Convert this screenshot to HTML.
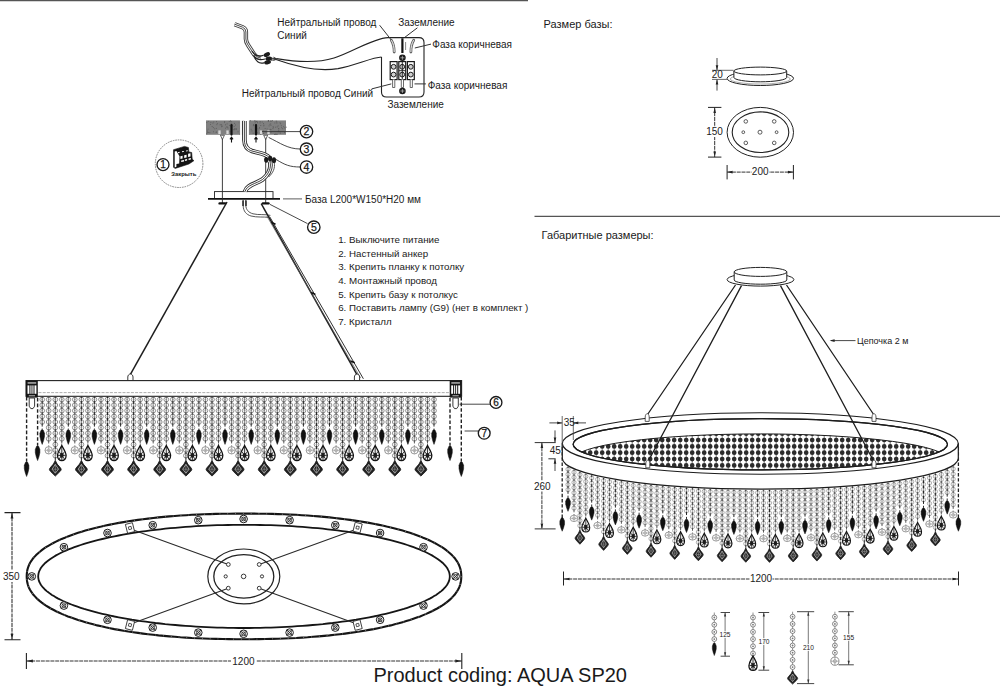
<!DOCTYPE html>
<html lang="ru"><head><meta charset="utf-8"><title>AQUA SP20</title>
<style>
html,body{margin:0;padding:0;background:#fff;}
body{width:1000px;height:690px;overflow:hidden;position:relative;font-family:"Liberation Sans",sans-serif;}
svg{position:absolute;left:0;top:0;display:block}
text{font-family:"Liberation Sans",sans-serif;fill:#1a1a1a}
.t10{font-size:10px}.t11{font-size:11px}.t98{font-size:9.75px}.t9{font-size:9px}
.d{font-size:10px;fill:#222}
.ln{stroke:#222;fill:none}
</style></head><body>
<svg width="1000" height="690" viewBox="0 0 1000 690">
<rect width="1000" height="690" fill="#fff"/>

<defs>
<g id="bd"><circle r="2.35" fill="#fff" stroke="#7a7a7a" stroke-width="0.85"/><circle r="0.9" fill="#8a8a8a"/></g>
<g id="bp"><circle r="2.1" fill="#fff" stroke="#999" stroke-width="0.8"/><circle r="0.8" fill="#aaa"/></g>
<path id="dd" d="M0,0 L-1.1,0.8 L-2.3,3.8 L-2.3,7.2 L-1.3,11.4 L0,15 L1.3,11.4 L2.3,7.2 L2.3,3.8 L1.1,0.8Z" fill="#111" stroke="#111" stroke-width="0.5" stroke-linejoin="round"/>
<g id="bl"><circle r="3.7" fill="#fff" stroke="#8c8c8c" stroke-width="0.9"/><path d="M-3.7,0H3.7M0,-3.7V3.7" stroke="#9a9a9a" stroke-width="0.7"/><circle r="1.5" fill="none" stroke="#909090" stroke-width="0.6"/></g>
<g id="al"><path d="M0,0 C-1,2.6 -4.3,6.2 -4.3,10.2 C-4.3,13.2 -2.4,15.2 0,15.2 C2.4,15.2 4.3,13.2 4.3,10.2 C4.3,6.2 1,2.6 0,0Z" fill="#eee" stroke="#111" stroke-width="1.3"/><path d="M0,1.5V15M-3.8,10H3.8M-2.8,6.2L2.8,13.8M2.8,6.2L-2.8,13.8" stroke="#1c1c1c" stroke-width="0.85" fill="none"/><ellipse cy="9.8" rx="1.9" ry="2.5" fill="#1c1c1c"/></g>
<g id="dm"><path d="M0,0 L-1.9,3.7 L-4.5,6.7 Q-5.9,8.2 -5.9,9 Q-5.9,9.8 -4.6,11.2 L0,15.7 L4.6,11.2 Q5.9,9.8 5.9,9 Q5.9,8.2 4.5,6.7 L1.9,3.7Z" fill="#222" stroke="#111" stroke-width="0.8" stroke-linejoin="round"/><path d="M0,4 L-3.2,8.8 L0,12.8 L3.2,8.8Z" fill="none" stroke="#cfcfcf" stroke-width="0.7"/><path d="M0,4V12.8M-3.2,8.8H3.2" stroke="#b0b0b0" stroke-width="0.5"/></g>
<g id="sk"><circle r="3.8" fill="#fff" stroke="#1c1c1c" stroke-width="1"/><path d="M-2.7,-2.7L2.7,2.7M-2.7,2.7L2.7,-2.7" stroke="#2a2a2a" stroke-width="0.9"/><circle r="1.9" fill="none" stroke="#2a2a2a" stroke-width="0.9"/></g>
<g id="hk"><path d="M-2.6,6 V2.4 C-2.6,0.8 -1.4,-0.6 0,-0.6 C1.4,-0.6 2.6,0.8 2.6,2.4 V6" fill="#fff" stroke="#222" stroke-width="0.9"/></g>
</defs>
<path d="M0,0.5H528" stroke="#555" stroke-width="1.3"/>
<path d="M534.5,216.4H1000" stroke="#555" stroke-width="1.3"/>
<text x="277.3" y="26.3" class="t10">Нейтральный провод</text>
<text x="277.3" y="38.7" class="t10">Синий</text>
<text x="398.2" y="26.3" class="t10">Заземление</text>
<text x="432.3" y="48" class="t10">Фаза коричневая</text>
<text x="427.7" y="89" class="t10">Фаза коричневая</text>
<text x="241.7" y="96.8" class="t10">Нейтральный провод Синий</text>
<text x="387.4" y="107.7" class="t10">Заземление</text>
<text x="543.6" y="28" class="t11">Размер базы:</text>
<text x="541.6" y="239" class="t11">Габаритные размеры:</text>
<text x="305" y="203" class="t10">База L200*W150*H20 мм</text>
<text x="338.2" y="243.2" class="t98">1. Выключите питание</text>
<text x="338.2" y="256.8" class="t98">2. Настенный анкер</text>
<text x="338.2" y="270.4" class="t98">3. Крепить планку к потолку</text>
<text x="338.2" y="284" class="t98">4. Монтажный провод</text>
<text x="338.2" y="297.6" class="t98">5. Крепить базу к потолкус</text>
<text x="338.2" y="311.2" class="t98">6. Поставить лампу (G9) (нет в комплект )</text>
<text x="338.2" y="324.8" class="t98">7. Кристалл</text>
<text x="857" y="343.6" class="t9">Цепочка 2 м</text>
<text x="373.5" y="682" font-size="20" fill="#111">Product coding: AQUA SP20</text>
<path d="M381.5,57 V92 Q381.5,97 386.5,97 H419 Q424,97 424,92 V42.6 Q424,37.6 419,37.6 H388 C372,38.5 354,51.5 334,58 C316,63.6 296,62 276.5,58.6" class="ln" stroke-width="1.1" stroke="#333"/>
<path d="M381.5,57 C372,57.5 356,65 338,68.6 C318,72 298,67.5 276,59.6" class="ln" stroke-width="1.1" stroke="#333"/>
<rect x="390.2" y="61.6" width="6.9" height="18" fill="#fff" stroke="#1a1a1a" stroke-width="1.2"/>
<circle cx="393.6" cy="66.8" r="2.4" fill="#cfcfcf" stroke="#1a1a1a" stroke-width="1"/>
<circle cx="393.6" cy="74.6" r="2.4" fill="#cfcfcf" stroke="#1a1a1a" stroke-width="1"/>
<rect x="398.8" y="61.6" width="6.9" height="18" fill="#fff" stroke="#1a1a1a" stroke-width="1.2"/>
<circle cx="402.2" cy="66.8" r="2.4" fill="#cfcfcf" stroke="#1a1a1a" stroke-width="1"/>
<circle cx="402.2" cy="74.6" r="2.4" fill="#cfcfcf" stroke="#1a1a1a" stroke-width="1"/>
<rect x="407.4" y="61.6" width="6.9" height="18" fill="#fff" stroke="#1a1a1a" stroke-width="1.2"/>
<circle cx="410.8" cy="66.8" r="2.4" fill="#cfcfcf" stroke="#1a1a1a" stroke-width="1"/>
<circle cx="410.8" cy="74.6" r="2.4" fill="#cfcfcf" stroke="#1a1a1a" stroke-width="1"/>
<path d="M399,70.7H405.6M402.3,62V79.4" stroke="#1a1a1a" stroke-width="0.9"/>
<circle cx="402.4" cy="57.8" r="3.3" fill="#1c1c1c"/><path d="M400.4,57.8H404.4M402.4,55.8V59.8" stroke="#ddd" stroke-width="0.6"/>
<circle cx="402.4" cy="91" r="3.3" fill="#1c1c1c"/><path d="M400.4,91H404.4M402.4,89V93" stroke="#ddd" stroke-width="0.6"/>
<path d="M402.4,38.3V53" stroke="#111" stroke-width="2.2"/>
<path d="M405.6,42V50" stroke="#555" stroke-width="0.7"/>
<path d="M391.3,40.2 C393.4,43.5 394.2,47 394.2,52" stroke="#666" stroke-width="2.8" fill="none" stroke-linecap="round"/><path d="M391.3,40.2 C393.4,43.5 394.2,47 394.2,52" stroke="#fff" stroke-width="0.9" fill="none"/>
<path d="M413.7,40.2 C411.6,43.5 410.9,47 410.9,52" stroke="#666" stroke-width="2.8" fill="none" stroke-linecap="round"/><path d="M413.7,40.2 C411.6,43.5 410.9,47 410.9,52" stroke="#fff" stroke-width="0.9" fill="none"/>
<path d="M392.59999999999997,79.5V87.5H394.8V79.5" fill="#fff" stroke="#444" stroke-width="0.8"/>
<path d="M401.29999999999995,79.5V87.5H403.5V79.5" fill="#fff" stroke="#444" stroke-width="0.8"/>
<path d="M410.2,79.5V87.5H412.40000000000003V79.5" fill="#fff" stroke="#444" stroke-width="0.8"/>
<path d="M379.6,25.2L391,39.6M417.4,27.8L405,37.2M431,44.1L414.8,48M425.9,83.9H414.5M371.7,88.9L391.3,83.9" stroke="#333" stroke-width="1" fill="none"/>
<path d="M234.6,24.2 L242.6,27.2 Q245.9,28.6 245.9,32 L245.9,39 Q246,42 248,45 L254,54.2 Q256,57.4 260.5,58" stroke="#3a3a3a" stroke-width="4.4" fill="none" stroke-linejoin="round"/>
<path d="M234.6,24.2 L242.6,27.2 Q245.9,28.6 245.9,32 L245.9,39 Q246,42 248,45 L254,54.2 Q256,57.4 260.5,58" stroke="#fff" stroke-width="2.6" fill="none" stroke-linejoin="round"/>
<path d="M234.6,24.2 L242.6,27.2 Q245.9,28.6 245.9,32 L245.9,39 Q246,42 248,45 L254,54.2 Q256,57.4 260.5,58" stroke="#3a3a3a" stroke-width="0.9" fill="none" stroke-linejoin="round"/>
<path d="M252,51 C255,56 259,57 263.5,55.2M253.6,55 C256,59.5 260,60.5 265,59M254.6,57.6 C257,62.6 261,64 264.6,62.6" stroke="#222" stroke-width="1.2" fill="none"/>
<ellipse cx="266.8" cy="54.6" rx="3.4" ry="2.1" fill="#1c1c1c" transform="rotate(-25 266.8 54.6)"/>
<ellipse cx="268.8" cy="58.7" rx="3.4" ry="2.1" fill="#1c1c1c" transform="rotate(-8 268.8 58.7)"/>
<ellipse cx="267.6" cy="62.3" rx="3.4" ry="2.1" fill="#1c1c1c" transform="rotate(-12 267.6 62.3)"/>
<path d="M271,58.2L276.5,58.6M271,60.2L276,59.6M273.5,57.2l3,1.6l-3,1.6" stroke="#333" stroke-width="1" fill="none"/>
<rect x="206" y="120.4" width="80" height="14.4" fill="#808080"/>
<path d="M225,128.2h0.9M235.6,129.1h0.9M256.1,121.5h0.9M207.1,132.3h0.9M226.7,123.9h0.9M285.7,127.2h0.9M272.9,127.3h0.9M257.1,122.7h0.9M256.8,132.8h0.9M247.9,131h0.9M259.7,121.5h0.9M266.7,128.9h0.9M230.1,121h0.9M275.2,127.2h0.9M263.5,132.9h0.9M263.1,133.5h0.9M237.6,131.8h0.9M241.6,133.7h0.9M276.3,122h0.9M216.9,123.6h0.9M283.2,126.7h0.9M256.1,124.8h0.9M246.6,126h0.9M234.1,128.8h0.9M252.7,133.3h0.9M260.6,133.6h0.9M274.5,134.5h0.9M259.7,122.9h0.9M274.9,134.1h0.9M278.4,128.6h0.9M263.1,123.6h0.9M272.5,128.6h0.9M228.8,121.5h0.9M274.3,134.5h0.9M213.1,131.8h0.9M238.8,122.7h0.9M229.5,131.4h0.9M275.8,121.2h0.9M255.2,121.2h0.9M263.5,125.2h0.9M276.5,134.3h0.9M246.4,134.6h0.9M230.8,121.7h0.9M254,121h0.9M221.8,126.3h0.9M254.8,122.8h0.9M209.4,132.7h0.9M231.1,134h0.9M277.7,125.9h0.9M242.8,127.9h0.9M257.5,128.9h0.9M250.7,129.3h0.9M281.2,127.7h0.9M240.5,130.7h0.9M225,124.8h0.9M284.2,127.9h0.9M249.9,120.8h0.9M239.2,128.7h0.9M207.6,129.2h0.9M256.6,121.4h0.9M256.2,127.1h0.9M260.3,125.5h0.9M262.6,130.9h0.9M207.8,121.4h0.9M260.1,134.1h0.9M226.1,127h0.9M253.4,125.1h0.9M235.1,125h0.9M235.5,128.9h0.9M230,125.9h0.9M267.8,121h0.9M251.5,130.9h0.9M230.8,123.7h0.9M270.3,123.9h0.9M221,126.7h0.9M261.8,122h0.9M231.8,125.3h0.9M272.7,126.7h0.9M274.4,123h0.9M232.9,129.7h0.9M276.8,126.9h0.9M224,122.3h0.9M248.4,123.3h0.9M270.5,132.3h0.9M220.7,124.5h0.9M270.6,129.6h0.9M270.5,125.4h0.9M216.4,124.7h0.9M269.5,124.4h0.9M233.7,126.4h0.9M239.6,126.3h0.9M279.6,122.8h0.9M206.4,133.8h0.9M276.4,134.4h0.9M240.7,133.9h0.9M280.2,123.7h0.9M265.6,132.3h0.9M259,127.9h0.9M229.1,125.4h0.9M224.2,121.6h0.9M253.1,124.6h0.9M270.8,121.2h0.9M278.3,130.3h0.9M279.9,133.2h0.9M278,128.7h0.9M207.1,131h0.9M219.7,124.8h0.9M259,127.9h0.9M239.1,133.7h0.9M255,125.4h0.9M226.2,132.7h0.9M244.2,131.6h0.9M234.1,123.4h0.9M248.8,132h0.9M219.7,131.7h0.9M279.7,131.9h0.9M271.9,120.7h0.9M256.3,132.7h0.9M210,124.4h0.9M227.5,128h0.9M239.8,127.2h0.9M268.1,120.6h0.9M210.4,122.4h0.9M216,121.6h0.9M284,132.6h0.9M212.9,127.6h0.9M231.3,125h0.9M234.1,129.7h0.9M252.9,125.7h0.9M221.3,125.2h0.9M215.9,128.4h0.9M263.3,125.9h0.9M212.4,123.1h0.9M235.9,129.1h0.9M268.6,125.9h0.9M270.1,129.3h0.9M240.5,125.8h0.9M245.7,130.4h0.9M239.6,130.3h0.9M242.9,124h0.9M248.9,130.3h0.9M211.7,126.5h0.9M240.1,132.9h0.9M280.9,125.8h0.9M277.8,131.7h0.9M227,127.1h0.9M215.9,132h0.9M259,133h0.9M269.4,129.9h0.9M264.7,128.5h0.9M214.3,128.8h0.9M206.4,122.6h0.9M267.9,121.2h0.9M213.3,122h0.9M276.4,123.1h0.9M207.9,132.4h0.9M215.7,132.4h0.9M259.9,132.3h0.9M282.2,128.7h0.9M269.9,121.1h0.9" stroke="#5e5e5e" stroke-width="1"/>
<rect x="239.6" y="120" width="9.8" height="15.2" fill="#fff"/><rect x="241.9" y="120.4" width="2.5" height="14.4" fill="#a8a8a8"/>
<path d="M239.6,120.4V135M249.4,120.4V135" stroke="#666" stroke-width="0.7"/>
<path d="M231.5,125V134.6" stroke="#111" stroke-width="2.2" stroke-linecap="round"/>
<path d="M231.5,137.2V142.6M230.0,139.4L231.5,137.2L233.0,139.4" stroke="#111" stroke-width="1.1" fill="none"/>
<path d="M256,125V134.6" stroke="#111" stroke-width="2.2" stroke-linecap="round"/>
<path d="M256,137.2V142.6M254.5,139.4L256,137.2L257.5,139.4" stroke="#111" stroke-width="1.1" fill="none"/>
<rect x="218.3" y="130.4" width="2.4" height="3.6" fill="#d6d6d6"/>
<rect x="226.3" y="130.4" width="2.4" height="3.6" fill="#d6d6d6"/>
<rect x="259.8" y="130.4" width="2.4" height="3.6" fill="#d6d6d6"/>
<rect x="267.3" y="130.4" width="2.4" height="3.6" fill="#d6d6d6"/>
<rect x="214.5" y="191.6" width="58.5" height="7" fill="#fff" stroke="#222" stroke-width="0.9"/>
<path d="M208,198.9H280" stroke="#111" stroke-width="1.8"/>
<path d="M283,198.9H302" stroke="#333" stroke-width="0.8"/>
<path d="M222.4,135V203" stroke="#2a2a2a" stroke-width="0.9"/>
<path d="M220.4,135.2L222.4,139.5L224.4,135.2Z" fill="#fff" stroke="#222" stroke-width="0.7"/>
<path d="M219.6,203.4H225.20000000000002" stroke="#111" stroke-width="2.4" stroke-linecap="round"/>
<path d="M265.7,135V203" stroke="#2a2a2a" stroke-width="0.9"/>
<path d="M263.7,135.2L265.7,139.5L267.7,135.2Z" fill="#fff" stroke="#222" stroke-width="0.7"/>
<path d="M262.9,203.4H268.5" stroke="#111" stroke-width="2.4" stroke-linecap="round"/>
<path d="M244.4,121 V140 C244.6,146.5 247,149.5 252,151 L262,153.6 C266.5,155 269,156.6 270,159" stroke="#2e2e2e" stroke-width="4.6" fill="none"/>
<path d="M244.4,121 V140 C244.6,146.5 247,149.5 252,151 L262,153.6 C266.5,155 269,156.6 270,159" stroke="#fff" stroke-width="2.8" fill="none"/>
<path d="M244.4,121 V140 C244.6,146.5 247,149.5 252,151 L262,153.6 C266.5,155 269,156.6 270,159" stroke="#2e2e2e" stroke-width="0.9" fill="none"/>
<path d="M270,161.5 C271.5,167.5 269,174 262.5,179.5 C256,184 247,184.5 245,191.6" stroke="#2e2e2e" stroke-width="4.6" fill="none"/>
<path d="M270,161.5 C271.5,167.5 269,174 262.5,179.5 C256,184 247,184.5 245,191.6" stroke="#fff" stroke-width="2.8" fill="none"/>
<path d="M270,161.5 C271.5,167.5 269,174 262.5,179.5 C256,184 247,184.5 245,191.6" stroke="#2e2e2e" stroke-width="0.9" fill="none"/>
<rect x="239.6" y="119.4" width="9.8" height="1" fill="#fff"/>
<ellipse cx="266.2" cy="159.8" rx="2.1" ry="2.9" fill="#1a1a1a"/>
<ellipse cx="270.2" cy="158.6" rx="2.1" ry="2.9" fill="#1a1a1a"/>
<ellipse cx="274" cy="160.2" rx="2.1" ry="2.9" fill="#1a1a1a"/>
<path d="M274.2,162.5 C275.4,168 273,173 268.6,177" stroke="#444" stroke-width="0.9" fill="none"/>
<path d="M243.2,199.8 V206 C243.4,211 246,214.5 251,216 C257,217.6 264,216.6 268.5,217.4 M245.8,199.8 V205.5 C246,209.5 248.5,212.6 253,213.8 C258.5,215.2 265,214 270.4,215.4" stroke="#444" stroke-width="0.9" fill="none"/>
<path d="M243,200.5V206M246,200.5V206" stroke="#222" stroke-width="1.4"/>
<path d="M227,202L130.4,374.4" stroke="#1e1e1e" stroke-width="1.5"/>
<path d="M261.2,203.7L357,374.6" stroke="#1e1e1e" stroke-width="1.5"/>
<path d="M269.6,216.6L363.4,378.8" stroke="#333" stroke-width="1"/>
<path d="M266.8,216L360.6,378" stroke="#555" stroke-width="0.7"/>
<path d="M311.2,292.6l4.2,1.8M350.5,361l4.2,1.8M271.5,222.4l4,1.8" stroke="#111" stroke-width="1.6"/>
<path d="M300,131.6H262M300.2,149 C288,149 280,143 268.6,137.4M300.2,167 C290,167 285,165 276,159.4M307.5,223.6L270,204.4" stroke="#333" stroke-width="0.9" fill="none"/>
<circle cx="306.5" cy="131.6" r="6.2" fill="#fff" stroke="#1a1a1a" stroke-width="1.35"/><text x="306.5" y="135.4" text-anchor="middle" font-size="10.5" stroke="#1a1a1a" stroke-width="0.25">2</text>
<circle cx="306.5" cy="149.2" r="6.2" fill="#fff" stroke="#1a1a1a" stroke-width="1.35"/><text x="306.5" y="153" text-anchor="middle" font-size="10.5" stroke="#1a1a1a" stroke-width="0.25">3</text>
<circle cx="306.5" cy="167" r="6.2" fill="#fff" stroke="#1a1a1a" stroke-width="1.35"/><text x="306.5" y="170.8" text-anchor="middle" font-size="10.5" stroke="#1a1a1a" stroke-width="0.25">4</text>
<circle cx="313.8" cy="227.2" r="6.2" fill="#fff" stroke="#1a1a1a" stroke-width="1.35"/><text x="313.8" y="231" text-anchor="middle" font-size="10.5" stroke="#1a1a1a" stroke-width="0.25">5</text>
<circle cx="179.1" cy="163.7" r="23.8" fill="none" stroke="#777" stroke-width="0.9" stroke-dasharray="1.6 0.9"/>
<circle cx="163" cy="164.6" r="6" fill="#fff" stroke="#1a1a1a" stroke-width="1.35"/><text x="163" y="168.2" text-anchor="middle" font-size="10" stroke="#1a1a1a" stroke-width="0.25">1</text>
<path d="M173.5,149.7 L184.5,146.4 L188.4,147.5 L188.9,151.9 L191.7,152.5 L192.2,159.1 L193.9,160.7 L188.9,164 L175.2,168.4 L173.5,167.3Z" fill="#141414" stroke="#141414" stroke-width="0.6" stroke-linejoin="round"/>
<path d="M174.7,151.5 L176.4,151.1 L179.5,156.3 L179.2,163.4 L176.4,164 L176.4,166.8 L174.7,167.5Z" fill="#fff"/>
<path d="M180.4,156.2l2.2,-0.5v2.7l-2.2,0.5zM184.2,155.2l2.4,-0.5v2.8l-2.4,0.5zM188.1,153.8l2.4,-0.6v3.2l-2.4,0.6zM181.2,160.6l2.8,-0.6v1.5l-2.8,0.6zM184.9,159.6l2.2,-0.5v1.4l-2.2,0.5zM188.6,158.5l2.3,-0.5v1.4l-2.3,0.5zM177.9,152.2l1.7,-0.4v1.1l-1.7,0.4zM182,151.3l2,-0.4v0.9l-2,0.4zM186.2,150.4l1.4,-0.3v1.1l-1.4,0.3z" fill="#fff"/>
<text x="171.3" y="176.3" font-size="5.9" font-weight="bold" fill="#606060">Закрыть</text>
<use href="#hk" x="130.4" y="374.6"/><use href="#hk" x="357" y="374.6"/>
<rect x="26" y="380.6" width="435.6" height="15.7" fill="#fff" stroke="#222" stroke-width="1.1"/>
<path d="M38.5,392.6H449.5" stroke="#999" stroke-width="0.8" stroke-dasharray="3 1.2"/>
<rect x="26.0" y="380.4" width="11.8" height="17.2" fill="#161616"/>
<rect x="27.6" y="382.4" width="8.6" height="1.1" fill="#e8e8e8"/>
<rect x="27.5" y="385.4" width="1.9" height="8.4" fill="#fff"/>
<rect x="30.4" y="385.4" width="1.1" height="8.4" fill="#fff"/>
<rect x="32.4" y="385.4" width="1.1" height="8.4" fill="#fff"/>
<rect x="34.5" y="385.4" width="1.9" height="8.4" fill="#fff"/>
<rect x="28.8" y="395" width="6.2" height="1.4" fill="#8a8a8a"/>
<path d="M29.2,398V406.2L30.8,408.6H33.0L34.6,406.2V398Z" fill="#fff" stroke="#222" stroke-width="0.9"/>
<rect x="449.7" y="380.4" width="11.8" height="17.2" fill="#161616"/>
<rect x="451.3" y="382.4" width="8.6" height="1.1" fill="#e8e8e8"/>
<rect x="451.2" y="385.4" width="1.9" height="8.4" fill="#fff"/>
<rect x="454.1" y="385.4" width="1.1" height="8.4" fill="#fff"/>
<rect x="456.1" y="385.4" width="1.1" height="8.4" fill="#fff"/>
<rect x="458.2" y="385.4" width="1.9" height="8.4" fill="#fff"/>
<rect x="452.5" y="395" width="6.2" height="1.4" fill="#8a8a8a"/>
<path d="M452.9,398V406.2L454.5,408.6H456.7L458.3,406.2V398Z" fill="#fff" stroke="#222" stroke-width="0.9"/>
<use href="#bd" x="42.2" y="399.5"/>
<use href="#bd" x="42.2" y="405.1"/>
<use href="#bd" x="42.2" y="410.7"/>
<use href="#bd" x="42.2" y="416.4"/>
<use href="#bd" x="42.2" y="422"/>
<path d="M42.2,396.4V429.4" stroke="#1e1e1e" stroke-width="0.95" stroke-dasharray="3.60 2.02" stroke-dashoffset="1.52"/>
<use href="#bd" x="48.7" y="399.5"/>
<use href="#bd" x="48.7" y="405.1"/>
<use href="#bd" x="48.7" y="410.7"/>
<use href="#bd" x="48.7" y="416.4"/>
<use href="#bd" x="48.7" y="422"/>
<use href="#bd" x="48.7" y="427.6"/>
<use href="#bd" x="48.7" y="433.2"/>
<use href="#bd" x="48.7" y="438.8"/>
<path d="M48.7,396.4V446.9" stroke="#333" stroke-width="0.8" stroke-dasharray="3.60 2.02" stroke-dashoffset="1.52"/>
<use href="#bd" x="55.3" y="399.5"/>
<use href="#bd" x="55.3" y="405.1"/>
<use href="#bd" x="55.3" y="410.7"/>
<use href="#bd" x="55.3" y="416.4"/>
<use href="#bd" x="55.3" y="422"/>
<use href="#bd" x="55.3" y="427.6"/>
<use href="#bd" x="55.3" y="433.2"/>
<use href="#bd" x="55.3" y="438.8"/>
<use href="#bd" x="55.3" y="444.5"/>
<use href="#bd" x="55.3" y="450.1"/>
<use href="#bd" x="55.3" y="455.7"/>
<path d="M55.3,396.4V460.4" stroke="#1e1e1e" stroke-width="0.95" stroke-dasharray="3.60 2.02" stroke-dashoffset="1.52"/>
<use href="#bd" x="61.8" y="399.5"/>
<use href="#bd" x="61.8" y="405.1"/>
<use href="#bd" x="61.8" y="410.7"/>
<use href="#bd" x="61.8" y="416.4"/>
<use href="#bd" x="61.8" y="422"/>
<use href="#bd" x="61.8" y="427.6"/>
<use href="#bd" x="61.8" y="433.2"/>
<use href="#bd" x="61.8" y="438.8"/>
<path d="M61.8,396.4V445.4" stroke="#333" stroke-width="0.8" stroke-dasharray="3.60 2.02" stroke-dashoffset="1.52"/>
<use href="#bd" x="68.3" y="399.5"/>
<use href="#bd" x="68.3" y="405.1"/>
<use href="#bd" x="68.3" y="410.7"/>
<use href="#bd" x="68.3" y="416.4"/>
<use href="#bd" x="68.3" y="422"/>
<path d="M68.3,396.4V429.4" stroke="#1e1e1e" stroke-width="0.95" stroke-dasharray="3.60 2.02" stroke-dashoffset="1.52"/>
<use href="#bd" x="74.8" y="399.5"/>
<use href="#bd" x="74.8" y="405.1"/>
<use href="#bd" x="74.8" y="410.7"/>
<use href="#bd" x="74.8" y="416.4"/>
<use href="#bd" x="74.8" y="422"/>
<use href="#bd" x="74.8" y="427.6"/>
<use href="#bd" x="74.8" y="433.2"/>
<use href="#bd" x="74.8" y="438.8"/>
<path d="M74.8,396.4V446.9" stroke="#333" stroke-width="0.8" stroke-dasharray="3.60 2.02" stroke-dashoffset="1.52"/>
<use href="#bd" x="81.4" y="399.5"/>
<use href="#bd" x="81.4" y="405.1"/>
<use href="#bd" x="81.4" y="410.7"/>
<use href="#bd" x="81.4" y="416.4"/>
<use href="#bd" x="81.4" y="422"/>
<use href="#bd" x="81.4" y="427.6"/>
<use href="#bd" x="81.4" y="433.2"/>
<use href="#bd" x="81.4" y="438.8"/>
<use href="#bd" x="81.4" y="444.5"/>
<use href="#bd" x="81.4" y="450.1"/>
<use href="#bd" x="81.4" y="455.7"/>
<path d="M81.4,396.4V460.4" stroke="#1e1e1e" stroke-width="0.95" stroke-dasharray="3.60 2.02" stroke-dashoffset="1.52"/>
<use href="#bd" x="87.9" y="399.5"/>
<use href="#bd" x="87.9" y="405.1"/>
<use href="#bd" x="87.9" y="410.7"/>
<use href="#bd" x="87.9" y="416.4"/>
<use href="#bd" x="87.9" y="422"/>
<use href="#bd" x="87.9" y="427.6"/>
<use href="#bd" x="87.9" y="433.2"/>
<use href="#bd" x="87.9" y="438.8"/>
<path d="M87.9,396.4V445.4" stroke="#333" stroke-width="0.8" stroke-dasharray="3.60 2.02" stroke-dashoffset="1.52"/>
<use href="#bd" x="94.4" y="399.5"/>
<use href="#bd" x="94.4" y="405.1"/>
<use href="#bd" x="94.4" y="410.7"/>
<use href="#bd" x="94.4" y="416.4"/>
<use href="#bd" x="94.4" y="422"/>
<path d="M94.4,396.4V429.4" stroke="#1e1e1e" stroke-width="0.95" stroke-dasharray="3.60 2.02" stroke-dashoffset="1.52"/>
<use href="#bd" x="101" y="399.5"/>
<use href="#bd" x="101" y="405.1"/>
<use href="#bd" x="101" y="410.7"/>
<use href="#bd" x="101" y="416.4"/>
<use href="#bd" x="101" y="422"/>
<use href="#bd" x="101" y="427.6"/>
<use href="#bd" x="101" y="433.2"/>
<use href="#bd" x="101" y="438.8"/>
<path d="M101,396.4V446.9" stroke="#333" stroke-width="0.8" stroke-dasharray="3.60 2.02" stroke-dashoffset="1.52"/>
<use href="#bd" x="107.5" y="399.5"/>
<use href="#bd" x="107.5" y="405.1"/>
<use href="#bd" x="107.5" y="410.7"/>
<use href="#bd" x="107.5" y="416.4"/>
<use href="#bd" x="107.5" y="422"/>
<use href="#bd" x="107.5" y="427.6"/>
<use href="#bd" x="107.5" y="433.2"/>
<use href="#bd" x="107.5" y="438.8"/>
<use href="#bd" x="107.5" y="444.5"/>
<use href="#bd" x="107.5" y="450.1"/>
<use href="#bd" x="107.5" y="455.7"/>
<path d="M107.5,396.4V460.4" stroke="#1e1e1e" stroke-width="0.95" stroke-dasharray="3.60 2.02" stroke-dashoffset="1.52"/>
<use href="#bd" x="114" y="399.5"/>
<use href="#bd" x="114" y="405.1"/>
<use href="#bd" x="114" y="410.7"/>
<use href="#bd" x="114" y="416.4"/>
<use href="#bd" x="114" y="422"/>
<use href="#bd" x="114" y="427.6"/>
<use href="#bd" x="114" y="433.2"/>
<use href="#bd" x="114" y="438.8"/>
<path d="M114,396.4V445.4" stroke="#333" stroke-width="0.8" stroke-dasharray="3.60 2.02" stroke-dashoffset="1.52"/>
<use href="#bd" x="120.6" y="399.5"/>
<use href="#bd" x="120.6" y="405.1"/>
<use href="#bd" x="120.6" y="410.7"/>
<use href="#bd" x="120.6" y="416.4"/>
<use href="#bd" x="120.6" y="422"/>
<path d="M120.6,396.4V429.4" stroke="#1e1e1e" stroke-width="0.95" stroke-dasharray="3.60 2.02" stroke-dashoffset="1.52"/>
<use href="#bd" x="127.1" y="399.5"/>
<use href="#bd" x="127.1" y="405.1"/>
<use href="#bd" x="127.1" y="410.7"/>
<use href="#bd" x="127.1" y="416.4"/>
<use href="#bd" x="127.1" y="422"/>
<use href="#bd" x="127.1" y="427.6"/>
<use href="#bd" x="127.1" y="433.2"/>
<use href="#bd" x="127.1" y="438.8"/>
<path d="M127.1,396.4V446.9" stroke="#333" stroke-width="0.8" stroke-dasharray="3.60 2.02" stroke-dashoffset="1.52"/>
<use href="#bd" x="133.6" y="399.5"/>
<use href="#bd" x="133.6" y="405.1"/>
<use href="#bd" x="133.6" y="410.7"/>
<use href="#bd" x="133.6" y="416.4"/>
<use href="#bd" x="133.6" y="422"/>
<use href="#bd" x="133.6" y="427.6"/>
<use href="#bd" x="133.6" y="433.2"/>
<use href="#bd" x="133.6" y="438.8"/>
<use href="#bd" x="133.6" y="444.5"/>
<use href="#bd" x="133.6" y="450.1"/>
<use href="#bd" x="133.6" y="455.7"/>
<path d="M133.6,396.4V460.4" stroke="#1e1e1e" stroke-width="0.95" stroke-dasharray="3.60 2.02" stroke-dashoffset="1.52"/>
<use href="#bd" x="140.2" y="399.5"/>
<use href="#bd" x="140.2" y="405.1"/>
<use href="#bd" x="140.2" y="410.7"/>
<use href="#bd" x="140.2" y="416.4"/>
<use href="#bd" x="140.2" y="422"/>
<use href="#bd" x="140.2" y="427.6"/>
<use href="#bd" x="140.2" y="433.2"/>
<use href="#bd" x="140.2" y="438.8"/>
<path d="M140.2,396.4V445.4" stroke="#333" stroke-width="0.8" stroke-dasharray="3.60 2.02" stroke-dashoffset="1.52"/>
<use href="#bd" x="146.7" y="399.5"/>
<use href="#bd" x="146.7" y="405.1"/>
<use href="#bd" x="146.7" y="410.7"/>
<use href="#bd" x="146.7" y="416.4"/>
<use href="#bd" x="146.7" y="422"/>
<path d="M146.7,396.4V429.4" stroke="#1e1e1e" stroke-width="0.95" stroke-dasharray="3.60 2.02" stroke-dashoffset="1.52"/>
<use href="#bd" x="153.2" y="399.5"/>
<use href="#bd" x="153.2" y="405.1"/>
<use href="#bd" x="153.2" y="410.7"/>
<use href="#bd" x="153.2" y="416.4"/>
<use href="#bd" x="153.2" y="422"/>
<use href="#bd" x="153.2" y="427.6"/>
<use href="#bd" x="153.2" y="433.2"/>
<use href="#bd" x="153.2" y="438.8"/>
<path d="M153.2,396.4V446.9" stroke="#333" stroke-width="0.8" stroke-dasharray="3.60 2.02" stroke-dashoffset="1.52"/>
<use href="#bd" x="159.7" y="399.5"/>
<use href="#bd" x="159.7" y="405.1"/>
<use href="#bd" x="159.7" y="410.7"/>
<use href="#bd" x="159.7" y="416.4"/>
<use href="#bd" x="159.7" y="422"/>
<use href="#bd" x="159.7" y="427.6"/>
<use href="#bd" x="159.7" y="433.2"/>
<use href="#bd" x="159.7" y="438.8"/>
<use href="#bd" x="159.7" y="444.5"/>
<use href="#bd" x="159.7" y="450.1"/>
<use href="#bd" x="159.7" y="455.7"/>
<path d="M159.7,396.4V460.4" stroke="#1e1e1e" stroke-width="0.95" stroke-dasharray="3.60 2.02" stroke-dashoffset="1.52"/>
<use href="#bd" x="166.3" y="399.5"/>
<use href="#bd" x="166.3" y="405.1"/>
<use href="#bd" x="166.3" y="410.7"/>
<use href="#bd" x="166.3" y="416.4"/>
<use href="#bd" x="166.3" y="422"/>
<use href="#bd" x="166.3" y="427.6"/>
<use href="#bd" x="166.3" y="433.2"/>
<use href="#bd" x="166.3" y="438.8"/>
<path d="M166.3,396.4V445.4" stroke="#333" stroke-width="0.8" stroke-dasharray="3.60 2.02" stroke-dashoffset="1.52"/>
<use href="#bd" x="172.8" y="399.5"/>
<use href="#bd" x="172.8" y="405.1"/>
<use href="#bd" x="172.8" y="410.7"/>
<use href="#bd" x="172.8" y="416.4"/>
<use href="#bd" x="172.8" y="422"/>
<path d="M172.8,396.4V429.4" stroke="#1e1e1e" stroke-width="0.95" stroke-dasharray="3.60 2.02" stroke-dashoffset="1.52"/>
<use href="#bd" x="179.3" y="399.5"/>
<use href="#bd" x="179.3" y="405.1"/>
<use href="#bd" x="179.3" y="410.7"/>
<use href="#bd" x="179.3" y="416.4"/>
<use href="#bd" x="179.3" y="422"/>
<use href="#bd" x="179.3" y="427.6"/>
<use href="#bd" x="179.3" y="433.2"/>
<use href="#bd" x="179.3" y="438.8"/>
<path d="M179.3,396.4V446.9" stroke="#333" stroke-width="0.8" stroke-dasharray="3.60 2.02" stroke-dashoffset="1.52"/>
<use href="#bd" x="185.9" y="399.5"/>
<use href="#bd" x="185.9" y="405.1"/>
<use href="#bd" x="185.9" y="410.7"/>
<use href="#bd" x="185.9" y="416.4"/>
<use href="#bd" x="185.9" y="422"/>
<use href="#bd" x="185.9" y="427.6"/>
<use href="#bd" x="185.9" y="433.2"/>
<use href="#bd" x="185.9" y="438.8"/>
<use href="#bd" x="185.9" y="444.5"/>
<use href="#bd" x="185.9" y="450.1"/>
<use href="#bd" x="185.9" y="455.7"/>
<path d="M185.9,396.4V460.4" stroke="#1e1e1e" stroke-width="0.95" stroke-dasharray="3.60 2.02" stroke-dashoffset="1.52"/>
<use href="#bd" x="192.4" y="399.5"/>
<use href="#bd" x="192.4" y="405.1"/>
<use href="#bd" x="192.4" y="410.7"/>
<use href="#bd" x="192.4" y="416.4"/>
<use href="#bd" x="192.4" y="422"/>
<use href="#bd" x="192.4" y="427.6"/>
<use href="#bd" x="192.4" y="433.2"/>
<use href="#bd" x="192.4" y="438.8"/>
<path d="M192.4,396.4V445.4" stroke="#333" stroke-width="0.8" stroke-dasharray="3.60 2.02" stroke-dashoffset="1.52"/>
<use href="#bd" x="198.9" y="399.5"/>
<use href="#bd" x="198.9" y="405.1"/>
<use href="#bd" x="198.9" y="410.7"/>
<use href="#bd" x="198.9" y="416.4"/>
<use href="#bd" x="198.9" y="422"/>
<path d="M198.9,396.4V429.4" stroke="#1e1e1e" stroke-width="0.95" stroke-dasharray="3.60 2.02" stroke-dashoffset="1.52"/>
<use href="#bd" x="205.4" y="399.5"/>
<use href="#bd" x="205.4" y="405.1"/>
<use href="#bd" x="205.4" y="410.7"/>
<use href="#bd" x="205.4" y="416.4"/>
<use href="#bd" x="205.4" y="422"/>
<use href="#bd" x="205.4" y="427.6"/>
<use href="#bd" x="205.4" y="433.2"/>
<use href="#bd" x="205.4" y="438.8"/>
<path d="M205.4,396.4V446.9" stroke="#333" stroke-width="0.8" stroke-dasharray="3.60 2.02" stroke-dashoffset="1.52"/>
<use href="#bd" x="212" y="399.5"/>
<use href="#bd" x="212" y="405.1"/>
<use href="#bd" x="212" y="410.7"/>
<use href="#bd" x="212" y="416.4"/>
<use href="#bd" x="212" y="422"/>
<use href="#bd" x="212" y="427.6"/>
<use href="#bd" x="212" y="433.2"/>
<use href="#bd" x="212" y="438.8"/>
<use href="#bd" x="212" y="444.5"/>
<use href="#bd" x="212" y="450.1"/>
<use href="#bd" x="212" y="455.7"/>
<path d="M212,396.4V460.4" stroke="#1e1e1e" stroke-width="0.95" stroke-dasharray="3.60 2.02" stroke-dashoffset="1.52"/>
<use href="#bd" x="218.5" y="399.5"/>
<use href="#bd" x="218.5" y="405.1"/>
<use href="#bd" x="218.5" y="410.7"/>
<use href="#bd" x="218.5" y="416.4"/>
<use href="#bd" x="218.5" y="422"/>
<use href="#bd" x="218.5" y="427.6"/>
<use href="#bd" x="218.5" y="433.2"/>
<use href="#bd" x="218.5" y="438.8"/>
<path d="M218.5,396.4V445.4" stroke="#333" stroke-width="0.8" stroke-dasharray="3.60 2.02" stroke-dashoffset="1.52"/>
<use href="#bd" x="225" y="399.5"/>
<use href="#bd" x="225" y="405.1"/>
<use href="#bd" x="225" y="410.7"/>
<use href="#bd" x="225" y="416.4"/>
<use href="#bd" x="225" y="422"/>
<path d="M225,396.4V429.4" stroke="#1e1e1e" stroke-width="0.95" stroke-dasharray="3.60 2.02" stroke-dashoffset="1.52"/>
<use href="#bd" x="231.6" y="399.5"/>
<use href="#bd" x="231.6" y="405.1"/>
<use href="#bd" x="231.6" y="410.7"/>
<use href="#bd" x="231.6" y="416.4"/>
<use href="#bd" x="231.6" y="422"/>
<use href="#bd" x="231.6" y="427.6"/>
<use href="#bd" x="231.6" y="433.2"/>
<use href="#bd" x="231.6" y="438.8"/>
<path d="M231.6,396.4V446.9" stroke="#333" stroke-width="0.8" stroke-dasharray="3.60 2.02" stroke-dashoffset="1.52"/>
<use href="#bd" x="238.1" y="399.5"/>
<use href="#bd" x="238.1" y="405.1"/>
<use href="#bd" x="238.1" y="410.7"/>
<use href="#bd" x="238.1" y="416.4"/>
<use href="#bd" x="238.1" y="422"/>
<use href="#bd" x="238.1" y="427.6"/>
<use href="#bd" x="238.1" y="433.2"/>
<use href="#bd" x="238.1" y="438.8"/>
<use href="#bd" x="238.1" y="444.5"/>
<use href="#bd" x="238.1" y="450.1"/>
<use href="#bd" x="238.1" y="455.7"/>
<path d="M238.1,396.4V460.4" stroke="#1e1e1e" stroke-width="0.95" stroke-dasharray="3.60 2.02" stroke-dashoffset="1.52"/>
<use href="#bd" x="244.6" y="399.5"/>
<use href="#bd" x="244.6" y="405.1"/>
<use href="#bd" x="244.6" y="410.7"/>
<use href="#bd" x="244.6" y="416.4"/>
<use href="#bd" x="244.6" y="422"/>
<use href="#bd" x="244.6" y="427.6"/>
<use href="#bd" x="244.6" y="433.2"/>
<use href="#bd" x="244.6" y="438.8"/>
<path d="M244.6,396.4V445.4" stroke="#333" stroke-width="0.8" stroke-dasharray="3.60 2.02" stroke-dashoffset="1.52"/>
<use href="#bd" x="251.2" y="399.5"/>
<use href="#bd" x="251.2" y="405.1"/>
<use href="#bd" x="251.2" y="410.7"/>
<use href="#bd" x="251.2" y="416.4"/>
<use href="#bd" x="251.2" y="422"/>
<path d="M251.2,396.4V429.4" stroke="#1e1e1e" stroke-width="0.95" stroke-dasharray="3.60 2.02" stroke-dashoffset="1.52"/>
<use href="#bd" x="257.7" y="399.5"/>
<use href="#bd" x="257.7" y="405.1"/>
<use href="#bd" x="257.7" y="410.7"/>
<use href="#bd" x="257.7" y="416.4"/>
<use href="#bd" x="257.7" y="422"/>
<use href="#bd" x="257.7" y="427.6"/>
<use href="#bd" x="257.7" y="433.2"/>
<use href="#bd" x="257.7" y="438.8"/>
<path d="M257.7,396.4V446.9" stroke="#333" stroke-width="0.8" stroke-dasharray="3.60 2.02" stroke-dashoffset="1.52"/>
<use href="#bd" x="264.2" y="399.5"/>
<use href="#bd" x="264.2" y="405.1"/>
<use href="#bd" x="264.2" y="410.7"/>
<use href="#bd" x="264.2" y="416.4"/>
<use href="#bd" x="264.2" y="422"/>
<use href="#bd" x="264.2" y="427.6"/>
<use href="#bd" x="264.2" y="433.2"/>
<use href="#bd" x="264.2" y="438.8"/>
<use href="#bd" x="264.2" y="444.5"/>
<use href="#bd" x="264.2" y="450.1"/>
<use href="#bd" x="264.2" y="455.7"/>
<path d="M264.2,396.4V460.4" stroke="#1e1e1e" stroke-width="0.95" stroke-dasharray="3.60 2.02" stroke-dashoffset="1.52"/>
<use href="#bd" x="270.8" y="399.5"/>
<use href="#bd" x="270.8" y="405.1"/>
<use href="#bd" x="270.8" y="410.7"/>
<use href="#bd" x="270.8" y="416.4"/>
<use href="#bd" x="270.8" y="422"/>
<use href="#bd" x="270.8" y="427.6"/>
<use href="#bd" x="270.8" y="433.2"/>
<use href="#bd" x="270.8" y="438.8"/>
<path d="M270.8,396.4V445.4" stroke="#333" stroke-width="0.8" stroke-dasharray="3.60 2.02" stroke-dashoffset="1.52"/>
<use href="#bd" x="277.3" y="399.5"/>
<use href="#bd" x="277.3" y="405.1"/>
<use href="#bd" x="277.3" y="410.7"/>
<use href="#bd" x="277.3" y="416.4"/>
<use href="#bd" x="277.3" y="422"/>
<path d="M277.3,396.4V429.4" stroke="#1e1e1e" stroke-width="0.95" stroke-dasharray="3.60 2.02" stroke-dashoffset="1.52"/>
<use href="#bd" x="283.8" y="399.5"/>
<use href="#bd" x="283.8" y="405.1"/>
<use href="#bd" x="283.8" y="410.7"/>
<use href="#bd" x="283.8" y="416.4"/>
<use href="#bd" x="283.8" y="422"/>
<use href="#bd" x="283.8" y="427.6"/>
<use href="#bd" x="283.8" y="433.2"/>
<use href="#bd" x="283.8" y="438.8"/>
<path d="M283.8,396.4V446.9" stroke="#333" stroke-width="0.8" stroke-dasharray="3.60 2.02" stroke-dashoffset="1.52"/>
<use href="#bd" x="290.3" y="399.5"/>
<use href="#bd" x="290.3" y="405.1"/>
<use href="#bd" x="290.3" y="410.7"/>
<use href="#bd" x="290.3" y="416.4"/>
<use href="#bd" x="290.3" y="422"/>
<use href="#bd" x="290.3" y="427.6"/>
<use href="#bd" x="290.3" y="433.2"/>
<use href="#bd" x="290.3" y="438.8"/>
<use href="#bd" x="290.3" y="444.5"/>
<use href="#bd" x="290.3" y="450.1"/>
<use href="#bd" x="290.3" y="455.7"/>
<path d="M290.3,396.4V460.4" stroke="#1e1e1e" stroke-width="0.95" stroke-dasharray="3.60 2.02" stroke-dashoffset="1.52"/>
<use href="#bd" x="296.9" y="399.5"/>
<use href="#bd" x="296.9" y="405.1"/>
<use href="#bd" x="296.9" y="410.7"/>
<use href="#bd" x="296.9" y="416.4"/>
<use href="#bd" x="296.9" y="422"/>
<use href="#bd" x="296.9" y="427.6"/>
<use href="#bd" x="296.9" y="433.2"/>
<use href="#bd" x="296.9" y="438.8"/>
<path d="M296.9,396.4V445.4" stroke="#333" stroke-width="0.8" stroke-dasharray="3.60 2.02" stroke-dashoffset="1.52"/>
<use href="#bd" x="303.4" y="399.5"/>
<use href="#bd" x="303.4" y="405.1"/>
<use href="#bd" x="303.4" y="410.7"/>
<use href="#bd" x="303.4" y="416.4"/>
<use href="#bd" x="303.4" y="422"/>
<path d="M303.4,396.4V429.4" stroke="#1e1e1e" stroke-width="0.95" stroke-dasharray="3.60 2.02" stroke-dashoffset="1.52"/>
<use href="#bd" x="309.9" y="399.5"/>
<use href="#bd" x="309.9" y="405.1"/>
<use href="#bd" x="309.9" y="410.7"/>
<use href="#bd" x="309.9" y="416.4"/>
<use href="#bd" x="309.9" y="422"/>
<use href="#bd" x="309.9" y="427.6"/>
<use href="#bd" x="309.9" y="433.2"/>
<use href="#bd" x="309.9" y="438.8"/>
<path d="M309.9,396.4V446.9" stroke="#333" stroke-width="0.8" stroke-dasharray="3.60 2.02" stroke-dashoffset="1.52"/>
<use href="#bd" x="316.5" y="399.5"/>
<use href="#bd" x="316.5" y="405.1"/>
<use href="#bd" x="316.5" y="410.7"/>
<use href="#bd" x="316.5" y="416.4"/>
<use href="#bd" x="316.5" y="422"/>
<use href="#bd" x="316.5" y="427.6"/>
<use href="#bd" x="316.5" y="433.2"/>
<use href="#bd" x="316.5" y="438.8"/>
<use href="#bd" x="316.5" y="444.5"/>
<use href="#bd" x="316.5" y="450.1"/>
<use href="#bd" x="316.5" y="455.7"/>
<path d="M316.5,396.4V460.4" stroke="#1e1e1e" stroke-width="0.95" stroke-dasharray="3.60 2.02" stroke-dashoffset="1.52"/>
<use href="#bd" x="323" y="399.5"/>
<use href="#bd" x="323" y="405.1"/>
<use href="#bd" x="323" y="410.7"/>
<use href="#bd" x="323" y="416.4"/>
<use href="#bd" x="323" y="422"/>
<use href="#bd" x="323" y="427.6"/>
<use href="#bd" x="323" y="433.2"/>
<use href="#bd" x="323" y="438.8"/>
<path d="M323,396.4V445.4" stroke="#333" stroke-width="0.8" stroke-dasharray="3.60 2.02" stroke-dashoffset="1.52"/>
<use href="#bd" x="329.5" y="399.5"/>
<use href="#bd" x="329.5" y="405.1"/>
<use href="#bd" x="329.5" y="410.7"/>
<use href="#bd" x="329.5" y="416.4"/>
<use href="#bd" x="329.5" y="422"/>
<path d="M329.5,396.4V429.4" stroke="#1e1e1e" stroke-width="0.95" stroke-dasharray="3.60 2.02" stroke-dashoffset="1.52"/>
<use href="#bd" x="336.1" y="399.5"/>
<use href="#bd" x="336.1" y="405.1"/>
<use href="#bd" x="336.1" y="410.7"/>
<use href="#bd" x="336.1" y="416.4"/>
<use href="#bd" x="336.1" y="422"/>
<use href="#bd" x="336.1" y="427.6"/>
<use href="#bd" x="336.1" y="433.2"/>
<use href="#bd" x="336.1" y="438.8"/>
<path d="M336.1,396.4V446.9" stroke="#333" stroke-width="0.8" stroke-dasharray="3.60 2.02" stroke-dashoffset="1.52"/>
<use href="#bd" x="342.6" y="399.5"/>
<use href="#bd" x="342.6" y="405.1"/>
<use href="#bd" x="342.6" y="410.7"/>
<use href="#bd" x="342.6" y="416.4"/>
<use href="#bd" x="342.6" y="422"/>
<use href="#bd" x="342.6" y="427.6"/>
<use href="#bd" x="342.6" y="433.2"/>
<use href="#bd" x="342.6" y="438.8"/>
<use href="#bd" x="342.6" y="444.5"/>
<use href="#bd" x="342.6" y="450.1"/>
<use href="#bd" x="342.6" y="455.7"/>
<path d="M342.6,396.4V460.4" stroke="#1e1e1e" stroke-width="0.95" stroke-dasharray="3.60 2.02" stroke-dashoffset="1.52"/>
<use href="#bd" x="349.1" y="399.5"/>
<use href="#bd" x="349.1" y="405.1"/>
<use href="#bd" x="349.1" y="410.7"/>
<use href="#bd" x="349.1" y="416.4"/>
<use href="#bd" x="349.1" y="422"/>
<use href="#bd" x="349.1" y="427.6"/>
<use href="#bd" x="349.1" y="433.2"/>
<use href="#bd" x="349.1" y="438.8"/>
<path d="M349.1,396.4V445.4" stroke="#333" stroke-width="0.8" stroke-dasharray="3.60 2.02" stroke-dashoffset="1.52"/>
<use href="#bd" x="355.6" y="399.5"/>
<use href="#bd" x="355.6" y="405.1"/>
<use href="#bd" x="355.6" y="410.7"/>
<use href="#bd" x="355.6" y="416.4"/>
<use href="#bd" x="355.6" y="422"/>
<path d="M355.6,396.4V429.4" stroke="#1e1e1e" stroke-width="0.95" stroke-dasharray="3.60 2.02" stroke-dashoffset="1.52"/>
<use href="#bd" x="362.2" y="399.5"/>
<use href="#bd" x="362.2" y="405.1"/>
<use href="#bd" x="362.2" y="410.7"/>
<use href="#bd" x="362.2" y="416.4"/>
<use href="#bd" x="362.2" y="422"/>
<use href="#bd" x="362.2" y="427.6"/>
<use href="#bd" x="362.2" y="433.2"/>
<use href="#bd" x="362.2" y="438.8"/>
<path d="M362.2,396.4V446.9" stroke="#333" stroke-width="0.8" stroke-dasharray="3.60 2.02" stroke-dashoffset="1.52"/>
<use href="#bd" x="368.7" y="399.5"/>
<use href="#bd" x="368.7" y="405.1"/>
<use href="#bd" x="368.7" y="410.7"/>
<use href="#bd" x="368.7" y="416.4"/>
<use href="#bd" x="368.7" y="422"/>
<use href="#bd" x="368.7" y="427.6"/>
<use href="#bd" x="368.7" y="433.2"/>
<use href="#bd" x="368.7" y="438.8"/>
<use href="#bd" x="368.7" y="444.5"/>
<use href="#bd" x="368.7" y="450.1"/>
<use href="#bd" x="368.7" y="455.7"/>
<path d="M368.7,396.4V460.4" stroke="#1e1e1e" stroke-width="0.95" stroke-dasharray="3.60 2.02" stroke-dashoffset="1.52"/>
<use href="#bd" x="375.2" y="399.5"/>
<use href="#bd" x="375.2" y="405.1"/>
<use href="#bd" x="375.2" y="410.7"/>
<use href="#bd" x="375.2" y="416.4"/>
<use href="#bd" x="375.2" y="422"/>
<use href="#bd" x="375.2" y="427.6"/>
<use href="#bd" x="375.2" y="433.2"/>
<use href="#bd" x="375.2" y="438.8"/>
<path d="M375.2,396.4V445.4" stroke="#333" stroke-width="0.8" stroke-dasharray="3.60 2.02" stroke-dashoffset="1.52"/>
<use href="#bd" x="381.8" y="399.5"/>
<use href="#bd" x="381.8" y="405.1"/>
<use href="#bd" x="381.8" y="410.7"/>
<use href="#bd" x="381.8" y="416.4"/>
<use href="#bd" x="381.8" y="422"/>
<path d="M381.8,396.4V429.4" stroke="#1e1e1e" stroke-width="0.95" stroke-dasharray="3.60 2.02" stroke-dashoffset="1.52"/>
<use href="#bd" x="388.3" y="399.5"/>
<use href="#bd" x="388.3" y="405.1"/>
<use href="#bd" x="388.3" y="410.7"/>
<use href="#bd" x="388.3" y="416.4"/>
<use href="#bd" x="388.3" y="422"/>
<use href="#bd" x="388.3" y="427.6"/>
<use href="#bd" x="388.3" y="433.2"/>
<use href="#bd" x="388.3" y="438.8"/>
<path d="M388.3,396.4V446.9" stroke="#333" stroke-width="0.8" stroke-dasharray="3.60 2.02" stroke-dashoffset="1.52"/>
<use href="#bd" x="394.8" y="399.5"/>
<use href="#bd" x="394.8" y="405.1"/>
<use href="#bd" x="394.8" y="410.7"/>
<use href="#bd" x="394.8" y="416.4"/>
<use href="#bd" x="394.8" y="422"/>
<use href="#bd" x="394.8" y="427.6"/>
<use href="#bd" x="394.8" y="433.2"/>
<use href="#bd" x="394.8" y="438.8"/>
<use href="#bd" x="394.8" y="444.5"/>
<use href="#bd" x="394.8" y="450.1"/>
<use href="#bd" x="394.8" y="455.7"/>
<path d="M394.8,396.4V460.4" stroke="#1e1e1e" stroke-width="0.95" stroke-dasharray="3.60 2.02" stroke-dashoffset="1.52"/>
<use href="#bd" x="401.4" y="399.5"/>
<use href="#bd" x="401.4" y="405.1"/>
<use href="#bd" x="401.4" y="410.7"/>
<use href="#bd" x="401.4" y="416.4"/>
<use href="#bd" x="401.4" y="422"/>
<use href="#bd" x="401.4" y="427.6"/>
<use href="#bd" x="401.4" y="433.2"/>
<use href="#bd" x="401.4" y="438.8"/>
<path d="M401.4,396.4V445.4" stroke="#333" stroke-width="0.8" stroke-dasharray="3.60 2.02" stroke-dashoffset="1.52"/>
<use href="#bd" x="407.9" y="399.5"/>
<use href="#bd" x="407.9" y="405.1"/>
<use href="#bd" x="407.9" y="410.7"/>
<use href="#bd" x="407.9" y="416.4"/>
<use href="#bd" x="407.9" y="422"/>
<path d="M407.9,396.4V429.4" stroke="#1e1e1e" stroke-width="0.95" stroke-dasharray="3.60 2.02" stroke-dashoffset="1.52"/>
<use href="#bd" x="414.4" y="399.5"/>
<use href="#bd" x="414.4" y="405.1"/>
<use href="#bd" x="414.4" y="410.7"/>
<use href="#bd" x="414.4" y="416.4"/>
<use href="#bd" x="414.4" y="422"/>
<use href="#bd" x="414.4" y="427.6"/>
<use href="#bd" x="414.4" y="433.2"/>
<use href="#bd" x="414.4" y="438.8"/>
<path d="M414.4,396.4V446.9" stroke="#333" stroke-width="0.8" stroke-dasharray="3.60 2.02" stroke-dashoffset="1.52"/>
<use href="#bd" x="420.9" y="399.5"/>
<use href="#bd" x="420.9" y="405.1"/>
<use href="#bd" x="420.9" y="410.7"/>
<use href="#bd" x="420.9" y="416.4"/>
<use href="#bd" x="420.9" y="422"/>
<use href="#bd" x="420.9" y="427.6"/>
<use href="#bd" x="420.9" y="433.2"/>
<use href="#bd" x="420.9" y="438.8"/>
<use href="#bd" x="420.9" y="444.5"/>
<use href="#bd" x="420.9" y="450.1"/>
<use href="#bd" x="420.9" y="455.7"/>
<path d="M420.9,396.4V460.4" stroke="#1e1e1e" stroke-width="0.95" stroke-dasharray="3.60 2.02" stroke-dashoffset="1.52"/>
<use href="#bd" x="427.5" y="399.5"/>
<use href="#bd" x="427.5" y="405.1"/>
<use href="#bd" x="427.5" y="410.7"/>
<use href="#bd" x="427.5" y="416.4"/>
<use href="#bd" x="427.5" y="422"/>
<use href="#bd" x="427.5" y="427.6"/>
<use href="#bd" x="427.5" y="433.2"/>
<use href="#bd" x="427.5" y="438.8"/>
<path d="M427.5,396.4V445.4" stroke="#333" stroke-width="0.8" stroke-dasharray="3.60 2.02" stroke-dashoffset="1.52"/>
<use href="#bd" x="434" y="399.5"/>
<use href="#bd" x="434" y="405.1"/>
<use href="#bd" x="434" y="410.7"/>
<use href="#bd" x="434" y="416.4"/>
<use href="#bd" x="434" y="422"/>
<path d="M434,396.4V429.4" stroke="#1e1e1e" stroke-width="0.95" stroke-dasharray="3.60 2.02" stroke-dashoffset="1.52"/>
<use href="#dd" x="42.2" y="429.4"/>
<use href="#bl" x="48.7" y="450.3"/>
<use href="#dm" x="55.3" y="460.4"/>
<use href="#al" x="61.8" y="445.4"/>
<use href="#dd" x="68.3" y="429.4"/>
<use href="#bl" x="74.8" y="450.3"/>
<use href="#dm" x="81.4" y="460.4"/>
<use href="#al" x="87.9" y="445.4"/>
<use href="#dd" x="94.4" y="429.4"/>
<use href="#bl" x="101" y="450.3"/>
<use href="#dm" x="107.5" y="460.4"/>
<use href="#al" x="114" y="445.4"/>
<use href="#dd" x="120.6" y="429.4"/>
<use href="#bl" x="127.1" y="450.3"/>
<use href="#dm" x="133.6" y="460.4"/>
<use href="#al" x="140.2" y="445.4"/>
<use href="#dd" x="146.7" y="429.4"/>
<use href="#bl" x="153.2" y="450.3"/>
<use href="#dm" x="159.7" y="460.4"/>
<use href="#al" x="166.3" y="445.4"/>
<use href="#dd" x="172.8" y="429.4"/>
<use href="#bl" x="179.3" y="450.3"/>
<use href="#dm" x="185.9" y="460.4"/>
<use href="#al" x="192.4" y="445.4"/>
<use href="#dd" x="198.9" y="429.4"/>
<use href="#bl" x="205.4" y="450.3"/>
<use href="#dm" x="212" y="460.4"/>
<use href="#al" x="218.5" y="445.4"/>
<use href="#dd" x="225" y="429.4"/>
<use href="#bl" x="231.6" y="450.3"/>
<use href="#dm" x="238.1" y="460.4"/>
<use href="#al" x="244.6" y="445.4"/>
<use href="#dd" x="251.2" y="429.4"/>
<use href="#bl" x="257.7" y="450.3"/>
<use href="#dm" x="264.2" y="460.4"/>
<use href="#al" x="270.8" y="445.4"/>
<use href="#dd" x="277.3" y="429.4"/>
<use href="#bl" x="283.8" y="450.3"/>
<use href="#dm" x="290.3" y="460.4"/>
<use href="#al" x="296.9" y="445.4"/>
<use href="#dd" x="303.4" y="429.4"/>
<use href="#bl" x="309.9" y="450.3"/>
<use href="#dm" x="316.5" y="460.4"/>
<use href="#al" x="323" y="445.4"/>
<use href="#dd" x="329.5" y="429.4"/>
<use href="#bl" x="336.1" y="450.3"/>
<use href="#dm" x="342.6" y="460.4"/>
<use href="#al" x="349.1" y="445.4"/>
<use href="#dd" x="355.6" y="429.4"/>
<use href="#bl" x="362.2" y="450.3"/>
<use href="#dm" x="368.7" y="460.4"/>
<use href="#al" x="375.2" y="445.4"/>
<use href="#dd" x="381.8" y="429.4"/>
<use href="#bl" x="388.3" y="450.3"/>
<use href="#dm" x="394.8" y="460.4"/>
<use href="#al" x="401.4" y="445.4"/>
<use href="#dd" x="407.9" y="429.4"/>
<use href="#bl" x="414.4" y="450.3"/>
<use href="#dm" x="420.9" y="460.4"/>
<use href="#al" x="427.5" y="445.4"/>
<use href="#dd" x="434" y="429.4"/>
<path d="M37.6,398V445.6" stroke="#222" stroke-width="1.4" stroke-dasharray="3.6 2"/>
<use href="#dd" x="37.6" y="445.6"/>
<path d="M26.6,397V461.5" stroke="#222" stroke-width="1.4" stroke-dasharray="3.6 2"/>
<use href="#dd" x="26.6" y="461.5"/>
<path d="M450,398V445.6" stroke="#222" stroke-width="1.4" stroke-dasharray="3.6 2"/>
<use href="#dd" x="450" y="445.6"/>
<path d="M461.3,397V461.5" stroke="#222" stroke-width="1.4" stroke-dasharray="3.6 2"/>
<use href="#dd" x="461.3" y="461.5"/>
<path d="M490,404.2H459.6M478,431H464.6" stroke="#333" stroke-width="0.9"/>
<circle cx="496" cy="402.4" r="5.9" fill="#fff" stroke="#1a1a1a" stroke-width="1.35"/><text x="496" y="406" text-anchor="middle" font-size="10" stroke="#1a1a1a" stroke-width="0.25">6</text>
<circle cx="484.2" cy="433.2" r="5.9" fill="#fff" stroke="#1a1a1a" stroke-width="1.35"/><text x="484.2" y="436.8" text-anchor="middle" font-size="10" stroke="#1a1a1a" stroke-width="0.25">7</text>
<path d="M461.3,576.4L461.2,578.7L461,580.7L460.7,582.6L460.2,584.5L459.6,586.3L458.9,588L458,589.8L457,591.5L455.8,593.1L454.6,594.8L453.1,596.4L451.6,598L449.9,599.6L448.1,601.1L446.2,602.6L444.2,604.1L442,605.6L439.7,607L437.2,608.5L434.7,609.8L432,611.2L429.2,612.5L426.3,613.9L423.2,615.1L420.1,616.4L416.8,617.6L413.4,618.8L409.9,620L406.3,621.1L402.6,622.2L398.7,623.3L394.8,624.3L390.8,625.4L386.6,626.3L382.4,627.3L378,628.2L373.6,629.1L369.1,629.9L364.4,630.7L359.7,631.5L354.9,632.2L350,632.9L345,633.6L339.9,634.2L334.7,634.8L329.5,635.4L324.1,635.9L318.7,636.4L313.2,636.8L307.6,637.3L301.9,637.6L296.1,638L290.2,638.2L284.2,638.5L278.1,638.7L271.9,638.9L265.5,639L258.9,639.1L251.9,639.2L244,639.2L236.1,639.2L229.1,639.1L222.5,639L216.1,638.9L209.9,638.7L203.8,638.5L197.8,638.2L191.9,638L186.1,637.6L180.4,637.3L174.8,636.8L169.3,636.4L163.9,635.9L158.5,635.4L153.3,634.8L148.1,634.2L143,633.6L138,632.9L133.1,632.2L128.3,631.5L123.6,630.7L118.9,629.9L114.4,629.1L110,628.2L105.6,627.3L101.4,626.3L97.2,625.4L93.2,624.3L89.3,623.3L85.4,622.2L81.7,621.1L78.1,620L74.6,618.8L71.2,617.6L67.9,616.4L64.8,615.1L61.7,613.9L58.8,612.5L56,611.2L53.3,609.8L50.8,608.5L48.3,607L46,605.6L43.8,604.1L41.8,602.6L39.9,601.1L38.1,599.6L36.4,598L34.9,596.4L33.4,594.8L32.2,593.1L31,591.5L30,589.8L29.1,588L28.4,586.3L27.8,584.5L27.3,582.6L27,580.7L26.8,578.7L26.7,576.4L26.8,574.1L27,572.1L27.3,570.2L27.8,568.3L28.4,566.5L29.1,564.8L30,563L31,561.3L32.2,559.7L33.4,558L34.9,556.4L36.4,554.8L38.1,553.2L39.9,551.7L41.8,550.2L43.8,548.7L46,547.2L48.3,545.8L50.8,544.3L53.3,543L56,541.6L58.8,540.3L61.7,538.9L64.8,537.7L67.9,536.4L71.2,535.2L74.6,534L78.1,532.8L81.7,531.7L85.4,530.6L89.3,529.5L93.2,528.5L97.2,527.4L101.4,526.5L105.6,525.5L110,524.6L114.4,523.7L118.9,522.9L123.6,522.1L128.3,521.3L133.1,520.6L138,519.9L143,519.2L148.1,518.6L153.3,518L158.5,517.4L163.9,516.9L169.3,516.4L174.8,516L180.4,515.5L186.1,515.2L191.9,514.8L197.8,514.6L203.8,514.3L209.9,514.1L216.1,513.9L222.5,513.8L229.1,513.7L236.1,513.6L244,513.6L251.9,513.6L258.9,513.7L265.5,513.8L271.9,513.9L278.1,514.1L284.2,514.3L290.2,514.6L296.1,514.8L301.9,515.2L307.6,515.5L313.2,516L318.7,516.4L324.1,516.9L329.5,517.4L334.7,518L339.9,518.6L345,519.2L350,519.9L354.9,520.6L359.7,521.3L364.4,522.1L369.1,522.9L373.6,523.7L378,524.6L382.4,525.5L386.6,526.5L390.8,527.4L394.8,528.5L398.7,529.5L402.6,530.6L406.3,531.7L409.9,532.8L413.4,534L416.8,535.2L420.1,536.4L423.2,537.7L426.3,538.9L429.2,540.3L432,541.6L434.7,543L437.2,544.3L439.7,545.8L442,547.2L444.2,548.7L446.2,550.2L448.1,551.7L449.9,553.2L451.6,554.8L453.1,556.4L454.6,558L455.8,559.7L457,561.3L458,563L458.9,564.8L459.6,566.5L460.2,568.3L460.7,570.2L461,572.1L461.2,574.1Z" fill="#fff" stroke="#151515" stroke-width="2.1"/>
<path d="M461.3,576.4L461.2,578.7L461,580.7L460.7,582.6L460.2,584.5L459.6,586.3L458.9,588L458,589.8L457,591.5L455.8,593.1L454.6,594.8L453.1,596.4L451.6,598L449.9,599.6L448.1,601.1L446.2,602.6L444.2,604.1L442,605.6L439.7,607L437.2,608.5L434.7,609.8L432,611.2L429.2,612.5L426.3,613.9L423.2,615.1L420.1,616.4L416.8,617.6L413.4,618.8L409.9,620L406.3,621.1L402.6,622.2L398.7,623.3L394.8,624.3L390.8,625.4L386.6,626.3L382.4,627.3L378,628.2L373.6,629.1L369.1,629.9L364.4,630.7L359.7,631.5L354.9,632.2L350,632.9L345,633.6L339.9,634.2L334.7,634.8L329.5,635.4L324.1,635.9L318.7,636.4L313.2,636.8L307.6,637.3L301.9,637.6L296.1,638L290.2,638.2L284.2,638.5L278.1,638.7L271.9,638.9L265.5,639L258.9,639.1L251.9,639.2L244,639.2L236.1,639.2L229.1,639.1L222.5,639L216.1,638.9L209.9,638.7L203.8,638.5L197.8,638.2L191.9,638L186.1,637.6L180.4,637.3L174.8,636.8L169.3,636.4L163.9,635.9L158.5,635.4L153.3,634.8L148.1,634.2L143,633.6L138,632.9L133.1,632.2L128.3,631.5L123.6,630.7L118.9,629.9L114.4,629.1L110,628.2L105.6,627.3L101.4,626.3L97.2,625.4L93.2,624.3L89.3,623.3L85.4,622.2L81.7,621.1L78.1,620L74.6,618.8L71.2,617.6L67.9,616.4L64.8,615.1L61.7,613.9L58.8,612.5L56,611.2L53.3,609.8L50.8,608.5L48.3,607L46,605.6L43.8,604.1L41.8,602.6L39.9,601.1L38.1,599.6L36.4,598L34.9,596.4L33.4,594.8L32.2,593.1L31,591.5L30,589.8L29.1,588L28.4,586.3L27.8,584.5L27.3,582.6L27,580.7L26.8,578.7L26.7,576.4L26.8,574.1L27,572.1L27.3,570.2L27.8,568.3L28.4,566.5L29.1,564.8L30,563L31,561.3L32.2,559.7L33.4,558L34.9,556.4L36.4,554.8L38.1,553.2L39.9,551.7L41.8,550.2L43.8,548.7L46,547.2L48.3,545.8L50.8,544.3L53.3,543L56,541.6L58.8,540.3L61.7,538.9L64.8,537.7L67.9,536.4L71.2,535.2L74.6,534L78.1,532.8L81.7,531.7L85.4,530.6L89.3,529.5L93.2,528.5L97.2,527.4L101.4,526.5L105.6,525.5L110,524.6L114.4,523.7L118.9,522.9L123.6,522.1L128.3,521.3L133.1,520.6L138,519.9L143,519.2L148.1,518.6L153.3,518L158.5,517.4L163.9,516.9L169.3,516.4L174.8,516L180.4,515.5L186.1,515.2L191.9,514.8L197.8,514.6L203.8,514.3L209.9,514.1L216.1,513.9L222.5,513.8L229.1,513.7L236.1,513.6L244,513.6L251.9,513.6L258.9,513.7L265.5,513.8L271.9,513.9L278.1,514.1L284.2,514.3L290.2,514.6L296.1,514.8L301.9,515.2L307.6,515.5L313.2,516L318.7,516.4L324.1,516.9L329.5,517.4L334.7,518L339.9,518.6L345,519.2L350,519.9L354.9,520.6L359.7,521.3L364.4,522.1L369.1,522.9L373.6,523.7L378,524.6L382.4,525.5L386.6,526.5L390.8,527.4L394.8,528.5L398.7,529.5L402.6,530.6L406.3,531.7L409.9,532.8L413.4,534L416.8,535.2L420.1,536.4L423.2,537.7L426.3,538.9L429.2,540.3L432,541.6L434.7,543L437.2,544.3L439.7,545.8L442,547.2L444.2,548.7L446.2,550.2L448.1,551.7L449.9,553.2L451.6,554.8L453.1,556.4L454.6,558L455.8,559.7L457,561.3L458,563L458.9,564.8L459.6,566.5L460.2,568.3L460.7,570.2L461,572.1L461.2,574.1Z" fill="none" stroke="#fff" stroke-width="0.5" stroke-dasharray="0.8 7"/>
<path d="M449.8,576.4L449.7,577.8L449.5,579.1L449.2,580.4L448.7,581.8L448,583.1L447.3,584.5L446.4,585.8L445.3,587.1L444.1,588.4L442.8,589.8L441.3,591.1L439.7,592.3L438,593.6L436.1,594.9L434.1,596.1L432,597.4L429.8,598.6L427.4,599.8L424.9,601L422.2,602.2L419.5,603.4L416.6,604.5L413.6,605.6L410.5,606.7L407.3,607.8L403.9,608.9L400.5,609.9L396.9,610.9L393.3,611.9L389.5,612.9L385.7,613.8L381.7,614.7L377.7,615.6L373.5,616.5L369.3,617.3L365,618.1L360.6,618.9L356.1,619.7L351.5,620.4L346.9,621.1L342.2,621.7L337.4,622.4L332.6,623L327.7,623.5L322.8,624.1L317.8,624.6L312.7,625L307.6,625.5L302.5,625.9L297.3,626.2L292,626.6L286.8,626.9L281.5,627.1L276.2,627.4L270.9,627.6L265.5,627.7L260.1,627.8L254.8,627.9L249.4,628L244,628L238.6,628L233.2,627.9L227.9,627.8L222.5,627.7L217.1,627.6L211.8,627.4L206.5,627.1L201.2,626.9L196,626.6L190.7,626.2L185.5,625.9L180.4,625.5L175.3,625L170.2,624.6L165.2,624.1L160.3,623.5L155.4,623L150.6,622.4L145.8,621.7L141.1,621.1L136.5,620.4L131.9,619.7L127.4,618.9L123,618.1L118.7,617.3L114.5,616.5L110.3,615.6L106.3,614.7L102.3,613.8L98.5,612.9L94.7,611.9L91.1,610.9L87.5,609.9L84.1,608.9L80.7,607.8L77.5,606.7L74.4,605.6L71.4,604.5L68.5,603.4L65.8,602.2L63.1,601L60.6,599.8L58.2,598.6L56,597.4L53.9,596.1L51.9,594.9L50,593.6L48.3,592.3L46.7,591.1L45.2,589.8L43.9,588.4L42.7,587.1L41.6,585.8L40.7,584.5L40,583.1L39.3,581.8L38.8,580.4L38.5,579.1L38.3,577.8L38.2,576.4L38.3,575L38.5,573.7L38.8,572.4L39.3,571L40,569.7L40.7,568.3L41.6,567L42.7,565.7L43.9,564.4L45.2,563L46.7,561.7L48.3,560.5L50,559.2L51.9,557.9L53.9,556.7L56,555.4L58.2,554.2L60.6,553L63.1,551.8L65.8,550.6L68.5,549.4L71.4,548.3L74.4,547.2L77.5,546.1L80.7,545L84.1,543.9L87.5,542.9L91.1,541.9L94.7,540.9L98.5,539.9L102.3,539L106.3,538.1L110.3,537.2L114.5,536.3L118.7,535.5L123,534.7L127.4,533.9L131.9,533.1L136.5,532.4L141.1,531.7L145.8,531.1L150.6,530.4L155.4,529.8L160.3,529.3L165.2,528.7L170.2,528.2L175.3,527.8L180.4,527.3L185.5,526.9L190.7,526.6L196,526.2L201.2,525.9L206.5,525.7L211.8,525.4L217.1,525.2L222.5,525.1L227.9,525L233.2,524.9L238.6,524.8L244,524.8L249.4,524.8L254.8,524.9L260.1,525L265.5,525.1L270.9,525.2L276.2,525.4L281.5,525.7L286.8,525.9L292,526.2L297.3,526.6L302.5,526.9L307.6,527.3L312.7,527.8L317.8,528.2L322.8,528.7L327.7,529.3L332.6,529.8L337.4,530.4L342.2,531.1L346.9,531.7L351.5,532.4L356.1,533.1L360.6,533.9L365,534.7L369.3,535.5L373.5,536.3L377.7,537.2L381.7,538.1L385.7,539L389.5,539.9L393.3,540.9L396.9,541.9L400.5,542.9L403.9,543.9L407.3,545L410.5,546.1L413.6,547.2L416.6,548.3L419.5,549.4L422.2,550.6L424.9,551.8L427.4,553L429.8,554.2L432,555.4L434.1,556.7L436.1,557.9L438,559.2L439.7,560.5L441.3,561.7L442.8,563L444.1,564.4L445.3,565.7L446.4,567L447.3,568.3L448,569.7L448.7,571L449.2,572.4L449.5,573.7L449.7,575Z" fill="#fff" stroke="#151515" stroke-width="1.8"/>
<ellipse cx="243.8" cy="576.4" rx="36" ry="27.4" fill="#fff" stroke="#222" stroke-width="1.2"/>
<ellipse cx="243.8" cy="576.4" rx="30" ry="21.7" fill="#fff" stroke="#222" stroke-width="1.3"/>
<path d="M134,530.2L228.3,564.5M134,622.8L228.3,588.2M353.5,530.2L259.2,564.5M353.5,622.8L259.2,588.2" stroke="#2a2a2a" stroke-width="1.1"/>
<circle cx="228.3" cy="564.5" r="1.9" fill="#fff" stroke="#222" stroke-width="0.9"/>
<circle cx="225.7" cy="576.4" r="1.6" fill="#fff" stroke="#222" stroke-width="0.9"/>
<circle cx="228.3" cy="588.2" r="1.9" fill="#fff" stroke="#222" stroke-width="0.9"/>
<circle cx="243.6" cy="576.4" r="2.3" fill="#fff" stroke="#222" stroke-width="0.9"/>
<circle cx="259.2" cy="564.5" r="1.9" fill="#fff" stroke="#222" stroke-width="0.9"/>
<circle cx="262" cy="576.4" r="1.6" fill="#fff" stroke="#222" stroke-width="0.9"/>
<circle cx="259.2" cy="588.2" r="1.9" fill="#fff" stroke="#222" stroke-width="0.9"/>
<g transform="translate(130,528) rotate(-14)"><rect x="-3.6" y="-4.6" width="7.2" height="9.2" fill="#fff" stroke="#222" stroke-width="0.8"/><rect x="-1.4" y="-1.4" width="2.8" height="2.8" fill="none" stroke="#222" stroke-width="0.7"/></g>
<g transform="translate(130,625) rotate(14)"><rect x="-3.6" y="-4.6" width="7.2" height="9.2" fill="#fff" stroke="#222" stroke-width="0.8"/><rect x="-1.4" y="-1.4" width="2.8" height="2.8" fill="none" stroke="#222" stroke-width="0.7"/></g>
<g transform="translate(357.6,527.6) rotate(14)"><rect x="-3.6" y="-4.6" width="7.2" height="9.2" fill="#fff" stroke="#222" stroke-width="0.8"/><rect x="-1.4" y="-1.4" width="2.8" height="2.8" fill="none" stroke="#222" stroke-width="0.7"/></g>
<g transform="translate(357.6,625) rotate(-14)"><rect x="-3.6" y="-4.6" width="7.2" height="9.2" fill="#fff" stroke="#222" stroke-width="0.8"/><rect x="-1.4" y="-1.4" width="2.8" height="2.8" fill="none" stroke="#222" stroke-width="0.7"/></g>
<use href="#sk" x="63.9" y="547.2"/><use href="#sk" x="63.9" y="605.6"/>
<use href="#sk" x="107.5" y="533"/><use href="#sk" x="107.5" y="619.8"/>
<use href="#sk" x="152.7" y="525.2"/><use href="#sk" x="152.7" y="627.6"/>
<use href="#sk" x="198.3" y="520.2"/><use href="#sk" x="198.3" y="632.6"/>
<use href="#sk" x="243.6" y="519"/><use href="#sk" x="243.6" y="633.8"/>
<use href="#sk" x="289.6" y="520.2"/><use href="#sk" x="289.6" y="632.6"/>
<use href="#sk" x="335.3" y="525.2"/><use href="#sk" x="335.3" y="627.6"/>
<use href="#sk" x="380.1" y="533"/><use href="#sk" x="380.1" y="619.8"/>
<use href="#sk" x="423.5" y="547.2"/><use href="#sk" x="423.5" y="605.6"/>
<use href="#sk" x="31.8" y="576.4"/><use href="#sk" x="455.6" y="576.4"/>
<path d="M12,512.6V639.8" stroke="#333" stroke-width="1.1" stroke-dasharray="4 0.8"/>
<path d="M4.5,512.6H20.5M4.5,639.8H20.5" stroke="#222" stroke-width="1.1"/>
<path d="M12,512.6l-1.4,6h2.8zM12,639.8l-1.4,-6h2.8z" fill="#222"/>
<rect x="2" y="570" width="20" height="12" fill="#fff"/><text x="3" y="579.8" class="d" font-size="10.5">350</text>
<path d="M26.4,661H461.8" stroke="#333" stroke-width="1.1" stroke-dasharray="4 0.8"/>
<path d="M26.4,653V669M461.8,653V669" stroke="#222" stroke-width="1.1"/>
<path d="M26.4,661l6.5,-1.4v2.8zM461.8,661l-6.5,-1.4v2.8z" fill="#222"/>
<rect x="231" y="655" width="25" height="11" fill="#fff"/><text x="243.4" y="664.6" class="d" text-anchor="middle" font-size="10">1200</text>
<ellipse cx="760.3" cy="78.4" rx="33.2" ry="7.1" fill="#fff" stroke="#222" stroke-width="1"/>
<ellipse cx="760.3" cy="79" rx="30" ry="5" fill="none" stroke="#777" stroke-width="0.6"/>
<path d="M733.9,71V77.4 A26.4,4.4 0 0 0 786.7,77.4 V71Z" fill="#fff" stroke="#222" stroke-width="1"/>
<ellipse cx="760.3" cy="71" rx="26.4" ry="3.9" fill="#fff" stroke="#222" stroke-width="1"/>
<path d="M717,58V70.3M717,90.6V79.4" stroke="#333" stroke-width="0.9"/>
<path d="M717,70.3l-1.3,-5h2.6zM717,79.4l-1.3,5h2.6z" fill="#222"/>
<path d="M712,70.3H733.5M712,79.4H727.4" stroke="#444" stroke-width="0.8"/>
<text x="717.2" y="77.8" class="d" text-anchor="middle" font-size="8.8">20</text>
<ellipse cx="760.3" cy="132.3" rx="33.2" ry="24.9" fill="#fff" stroke="#222" stroke-width="1"/>
<ellipse cx="760.5" cy="132.2" rx="28.3" ry="20.3" fill="#fff" stroke="#222" stroke-width="1.1"/>
<circle cx="745.8" cy="121.4" r="1.8" fill="#fff" stroke="#333" stroke-width="0.8"/>
<circle cx="774.2" cy="121.4" r="1.8" fill="#fff" stroke="#333" stroke-width="0.8"/>
<circle cx="743.3" cy="132.2" r="1.4" fill="#fff" stroke="#333" stroke-width="0.8"/>
<circle cx="760" cy="132.2" r="2" fill="#fff" stroke="#333" stroke-width="0.8"/>
<circle cx="776.6" cy="132.2" r="1.4" fill="#fff" stroke="#333" stroke-width="0.8"/>
<circle cx="745.8" cy="142.9" r="1.8" fill="#fff" stroke="#333" stroke-width="0.8"/>
<circle cx="774.2" cy="142.9" r="1.8" fill="#fff" stroke="#333" stroke-width="0.8"/>
<path d="M714.7,107.4V157.1" stroke="#333" stroke-width="1" stroke-dasharray="4 0.8"/>
<path d="M708,107.4H721.4M708,157.1H721.4" stroke="#222" stroke-width="1"/>
<path d="M714.7,107.4l-1.3,5.5h2.6zM714.7,157.1l-1.3,-5.5h2.6z" fill="#222"/>
<rect x="706" y="126.5" width="17" height="10.5" fill="#fff"/><text x="714.6" y="135.4" class="d" text-anchor="middle" font-size="8.9">150</text>
<path d="M727.1,172.1H793.4" stroke="#333" stroke-width="1" stroke-dasharray="4 0.8"/>
<path d="M727.1,165V179.4M793.4,165V179.4" stroke="#222" stroke-width="1"/>
<path d="M727.1,172.1l5.5,-1.3v2.6zM793.4,172.1l-5.5,-1.3v2.6z" fill="#222"/>
<rect x="751.5" y="166.5" width="17.5" height="10.5" fill="#fff"/><text x="760.2" y="175.4" class="d" text-anchor="middle" font-size="9.1">200</text>
<ellipse cx="760.5" cy="279.6" rx="33.4" ry="6.5" fill="#fff" stroke="#222" stroke-width="1"/>
<path d="M734.2,271.9V280 A26.3,4.2 0 0 0 786.8,280 V271.9Z" fill="#fff" stroke="#222" stroke-width="1"/>
<ellipse cx="760.5" cy="271.9" rx="26.3" ry="4.5" fill="#fff" stroke="#222" stroke-width="1"/>
<use href="#bp" x="568" y="469.3"/>
<use href="#bp" x="568" y="474.4"/>
<use href="#bp" x="568" y="479.5"/>
<use href="#bp" x="568" y="484.6"/>
<use href="#bp" x="568" y="489.7"/>
<path d="M568,466.4V497.7" stroke="#1e1e1e" stroke-width="0.95" stroke-dasharray="3.27 1.84" stroke-dashoffset="1.38"/>
<use href="#bp" x="574" y="472.3"/>
<use href="#bp" x="574" y="477.4"/>
<use href="#bp" x="574" y="482.5"/>
<use href="#bp" x="574" y="487.6"/>
<use href="#bp" x="574" y="492.8"/>
<use href="#bp" x="574" y="497.9"/>
<use href="#bp" x="574" y="503"/>
<use href="#bp" x="574" y="508.1"/>
<path d="M574,469.5V515.4" stroke="#333" stroke-width="0.8" stroke-dasharray="3.27 1.84" stroke-dashoffset="1.38"/>
<use href="#bp" x="579.9" y="474.6"/>
<use href="#bp" x="579.9" y="479.7"/>
<use href="#bp" x="579.9" y="484.8"/>
<use href="#bp" x="579.9" y="489.9"/>
<use href="#bp" x="579.9" y="495"/>
<use href="#bp" x="579.9" y="500.1"/>
<use href="#bp" x="579.9" y="505.3"/>
<use href="#bp" x="579.9" y="510.4"/>
<use href="#bp" x="579.9" y="515.5"/>
<use href="#bp" x="579.9" y="520.6"/>
<use href="#bp" x="579.9" y="525.7"/>
<path d="M579.9,471.8V530" stroke="#1e1e1e" stroke-width="0.95" stroke-dasharray="3.27 1.84" stroke-dashoffset="1.38"/>
<use href="#bp" x="585.8" y="476.4"/>
<use href="#bp" x="585.8" y="481.6"/>
<use href="#bp" x="585.8" y="486.7"/>
<use href="#bp" x="585.8" y="491.8"/>
<use href="#bp" x="585.8" y="496.9"/>
<use href="#bp" x="585.8" y="502"/>
<use href="#bp" x="585.8" y="507.1"/>
<use href="#bp" x="585.8" y="512.2"/>
<path d="M585.8,473.6V518.2" stroke="#333" stroke-width="0.8" stroke-dasharray="3.27 1.84" stroke-dashoffset="1.38"/>
<use href="#bp" x="591.7" y="478"/>
<use href="#bp" x="591.7" y="483.2"/>
<use href="#bp" x="591.7" y="488.3"/>
<use href="#bp" x="591.7" y="493.4"/>
<use href="#bp" x="591.7" y="498.5"/>
<path d="M591.7,475.2V506.5" stroke="#1e1e1e" stroke-width="0.95" stroke-dasharray="3.27 1.84" stroke-dashoffset="1.38"/>
<use href="#bp" x="597.6" y="479.4"/>
<use href="#bp" x="597.6" y="484.6"/>
<use href="#bp" x="597.6" y="489.7"/>
<use href="#bp" x="597.6" y="494.8"/>
<use href="#bp" x="597.6" y="499.9"/>
<use href="#bp" x="597.6" y="505"/>
<use href="#bp" x="597.6" y="510.1"/>
<use href="#bp" x="597.6" y="515.2"/>
<path d="M597.6,476.6V522.6" stroke="#333" stroke-width="0.8" stroke-dasharray="3.27 1.84" stroke-dashoffset="1.38"/>
<use href="#bp" x="603.6" y="480.7"/>
<use href="#bp" x="603.6" y="485.8"/>
<use href="#bp" x="603.6" y="490.9"/>
<use href="#bp" x="603.6" y="496"/>
<use href="#bp" x="603.6" y="501.2"/>
<use href="#bp" x="603.6" y="506.3"/>
<use href="#bp" x="603.6" y="511.4"/>
<use href="#bp" x="603.6" y="516.5"/>
<use href="#bp" x="603.6" y="521.6"/>
<use href="#bp" x="603.6" y="526.7"/>
<use href="#bp" x="603.6" y="531.8"/>
<path d="M603.6,477.9V536.1" stroke="#1e1e1e" stroke-width="0.95" stroke-dasharray="3.27 1.84" stroke-dashoffset="1.38"/>
<use href="#bp" x="609.5" y="481.8"/>
<use href="#bp" x="609.5" y="487"/>
<use href="#bp" x="609.5" y="492.1"/>
<use href="#bp" x="609.5" y="497.2"/>
<use href="#bp" x="609.5" y="502.3"/>
<use href="#bp" x="609.5" y="507.4"/>
<use href="#bp" x="609.5" y="512.5"/>
<use href="#bp" x="609.5" y="517.6"/>
<path d="M609.5,479V523.6" stroke="#333" stroke-width="0.8" stroke-dasharray="3.27 1.84" stroke-dashoffset="1.38"/>
<use href="#bp" x="615.4" y="482.9"/>
<use href="#bp" x="615.4" y="488"/>
<use href="#bp" x="615.4" y="493.1"/>
<use href="#bp" x="615.4" y="498.2"/>
<use href="#bp" x="615.4" y="503.3"/>
<path d="M615.4,480.1V511.3" stroke="#1e1e1e" stroke-width="0.95" stroke-dasharray="3.27 1.84" stroke-dashoffset="1.38"/>
<use href="#bp" x="621.4" y="483.8"/>
<use href="#bp" x="621.4" y="488.9"/>
<use href="#bp" x="621.4" y="494"/>
<use href="#bp" x="621.4" y="499.2"/>
<use href="#bp" x="621.4" y="504.3"/>
<use href="#bp" x="621.4" y="509.4"/>
<use href="#bp" x="621.4" y="514.5"/>
<use href="#bp" x="621.4" y="519.6"/>
<path d="M621.4,481V527" stroke="#333" stroke-width="0.8" stroke-dasharray="3.27 1.84" stroke-dashoffset="1.38"/>
<use href="#bp" x="627.3" y="484.7"/>
<use href="#bp" x="627.3" y="489.8"/>
<use href="#bp" x="627.3" y="494.9"/>
<use href="#bp" x="627.3" y="500"/>
<use href="#bp" x="627.3" y="505.1"/>
<use href="#bp" x="627.3" y="510.3"/>
<use href="#bp" x="627.3" y="515.4"/>
<use href="#bp" x="627.3" y="520.5"/>
<use href="#bp" x="627.3" y="525.6"/>
<use href="#bp" x="627.3" y="530.7"/>
<use href="#bp" x="627.3" y="535.8"/>
<path d="M627.3,481.9V540.1" stroke="#1e1e1e" stroke-width="0.95" stroke-dasharray="3.27 1.84" stroke-dashoffset="1.38"/>
<use href="#bp" x="633.2" y="485.5"/>
<use href="#bp" x="633.2" y="490.6"/>
<use href="#bp" x="633.2" y="495.7"/>
<use href="#bp" x="633.2" y="500.8"/>
<use href="#bp" x="633.2" y="505.9"/>
<use href="#bp" x="633.2" y="511.1"/>
<use href="#bp" x="633.2" y="516.2"/>
<use href="#bp" x="633.2" y="521.3"/>
<path d="M633.2,482.7V527.3" stroke="#333" stroke-width="0.8" stroke-dasharray="3.27 1.84" stroke-dashoffset="1.38"/>
<use href="#bp" x="639.1" y="486.2"/>
<use href="#bp" x="639.1" y="491.3"/>
<use href="#bp" x="639.1" y="496.5"/>
<use href="#bp" x="639.1" y="501.6"/>
<use href="#bp" x="639.1" y="506.7"/>
<path d="M639.1,483.4V514.6" stroke="#1e1e1e" stroke-width="0.95" stroke-dasharray="3.27 1.84" stroke-dashoffset="1.38"/>
<use href="#bp" x="645.1" y="486.9"/>
<use href="#bp" x="645.1" y="492"/>
<use href="#bp" x="645.1" y="497.1"/>
<use href="#bp" x="645.1" y="502.3"/>
<use href="#bp" x="645.1" y="507.4"/>
<use href="#bp" x="645.1" y="512.5"/>
<use href="#bp" x="645.1" y="517.6"/>
<use href="#bp" x="645.1" y="522.7"/>
<path d="M645.1,484.1V530.1" stroke="#333" stroke-width="0.8" stroke-dasharray="3.27 1.84" stroke-dashoffset="1.38"/>
<use href="#bp" x="651" y="487.6"/>
<use href="#bp" x="651" y="492.7"/>
<use href="#bp" x="651" y="497.8"/>
<use href="#bp" x="651" y="502.9"/>
<use href="#bp" x="651" y="508"/>
<use href="#bp" x="651" y="513.1"/>
<use href="#bp" x="651" y="518.2"/>
<use href="#bp" x="651" y="523.3"/>
<use href="#bp" x="651" y="528.5"/>
<use href="#bp" x="651" y="533.6"/>
<use href="#bp" x="651" y="538.7"/>
<path d="M651,484.7V543" stroke="#1e1e1e" stroke-width="0.95" stroke-dasharray="3.27 1.84" stroke-dashoffset="1.38"/>
<use href="#bp" x="656.9" y="488.1"/>
<use href="#bp" x="656.9" y="493.3"/>
<use href="#bp" x="656.9" y="498.4"/>
<use href="#bp" x="656.9" y="503.5"/>
<use href="#bp" x="656.9" y="508.6"/>
<use href="#bp" x="656.9" y="513.7"/>
<use href="#bp" x="656.9" y="518.8"/>
<use href="#bp" x="656.9" y="523.9"/>
<path d="M656.9,485.3V529.9" stroke="#333" stroke-width="0.8" stroke-dasharray="3.27 1.84" stroke-dashoffset="1.38"/>
<use href="#bp" x="662.8" y="488.7"/>
<use href="#bp" x="662.8" y="493.8"/>
<use href="#bp" x="662.8" y="498.9"/>
<use href="#bp" x="662.8" y="504"/>
<use href="#bp" x="662.8" y="509.1"/>
<path d="M662.8,485.9V517.1" stroke="#1e1e1e" stroke-width="0.95" stroke-dasharray="3.27 1.84" stroke-dashoffset="1.38"/>
<use href="#bp" x="668.8" y="489.2"/>
<use href="#bp" x="668.8" y="494.3"/>
<use href="#bp" x="668.8" y="499.4"/>
<use href="#bp" x="668.8" y="504.5"/>
<use href="#bp" x="668.8" y="509.6"/>
<use href="#bp" x="668.8" y="514.7"/>
<use href="#bp" x="668.8" y="519.9"/>
<use href="#bp" x="668.8" y="525"/>
<path d="M668.8,486.4V532.3" stroke="#333" stroke-width="0.8" stroke-dasharray="3.27 1.84" stroke-dashoffset="1.38"/>
<use href="#bp" x="674.7" y="489.6"/>
<use href="#bp" x="674.7" y="494.8"/>
<use href="#bp" x="674.7" y="499.9"/>
<use href="#bp" x="674.7" y="505"/>
<use href="#bp" x="674.7" y="510.1"/>
<use href="#bp" x="674.7" y="515.2"/>
<use href="#bp" x="674.7" y="520.3"/>
<use href="#bp" x="674.7" y="525.4"/>
<use href="#bp" x="674.7" y="530.6"/>
<use href="#bp" x="674.7" y="535.7"/>
<use href="#bp" x="674.7" y="540.8"/>
<path d="M674.7,486.8V545.1" stroke="#1e1e1e" stroke-width="0.95" stroke-dasharray="3.27 1.84" stroke-dashoffset="1.38"/>
<use href="#bp" x="680.6" y="490.1"/>
<use href="#bp" x="680.6" y="495.2"/>
<use href="#bp" x="680.6" y="500.3"/>
<use href="#bp" x="680.6" y="505.4"/>
<use href="#bp" x="680.6" y="510.5"/>
<use href="#bp" x="680.6" y="515.6"/>
<use href="#bp" x="680.6" y="520.7"/>
<use href="#bp" x="680.6" y="525.9"/>
<path d="M680.6,487.2V531.8" stroke="#333" stroke-width="0.8" stroke-dasharray="3.27 1.84" stroke-dashoffset="1.38"/>
<use href="#bp" x="686.5" y="490.4"/>
<use href="#bp" x="686.5" y="495.6"/>
<use href="#bp" x="686.5" y="500.7"/>
<use href="#bp" x="686.5" y="505.8"/>
<use href="#bp" x="686.5" y="510.9"/>
<path d="M686.5,487.6V518.9" stroke="#1e1e1e" stroke-width="0.95" stroke-dasharray="3.27 1.84" stroke-dashoffset="1.38"/>
<use href="#bp" x="692.5" y="490.8"/>
<use href="#bp" x="692.5" y="495.9"/>
<use href="#bp" x="692.5" y="501"/>
<use href="#bp" x="692.5" y="506.1"/>
<use href="#bp" x="692.5" y="511.3"/>
<use href="#bp" x="692.5" y="516.4"/>
<use href="#bp" x="692.5" y="521.5"/>
<use href="#bp" x="692.5" y="526.6"/>
<path d="M692.5,488V533.9" stroke="#333" stroke-width="0.8" stroke-dasharray="3.27 1.84" stroke-dashoffset="1.38"/>
<use href="#bp" x="698.4" y="491.1"/>
<use href="#bp" x="698.4" y="496.2"/>
<use href="#bp" x="698.4" y="501.3"/>
<use href="#bp" x="698.4" y="506.5"/>
<use href="#bp" x="698.4" y="511.6"/>
<use href="#bp" x="698.4" y="516.7"/>
<use href="#bp" x="698.4" y="521.8"/>
<use href="#bp" x="698.4" y="526.9"/>
<use href="#bp" x="698.4" y="532"/>
<use href="#bp" x="698.4" y="537.1"/>
<use href="#bp" x="698.4" y="542.3"/>
<path d="M698.4,488.3V546.5" stroke="#1e1e1e" stroke-width="0.95" stroke-dasharray="3.27 1.84" stroke-dashoffset="1.38"/>
<use href="#bp" x="704.3" y="491.4"/>
<use href="#bp" x="704.3" y="496.5"/>
<use href="#bp" x="704.3" y="501.6"/>
<use href="#bp" x="704.3" y="506.7"/>
<use href="#bp" x="704.3" y="511.9"/>
<use href="#bp" x="704.3" y="517"/>
<use href="#bp" x="704.3" y="522.1"/>
<use href="#bp" x="704.3" y="527.2"/>
<path d="M704.3,488.6V533.2" stroke="#333" stroke-width="0.8" stroke-dasharray="3.27 1.84" stroke-dashoffset="1.38"/>
<use href="#bp" x="710.2" y="491.7"/>
<use href="#bp" x="710.2" y="496.8"/>
<use href="#bp" x="710.2" y="501.9"/>
<use href="#bp" x="710.2" y="507"/>
<use href="#bp" x="710.2" y="512.1"/>
<path d="M710.2,488.9V520.1" stroke="#1e1e1e" stroke-width="0.95" stroke-dasharray="3.27 1.84" stroke-dashoffset="1.38"/>
<use href="#bp" x="716.1" y="491.9"/>
<use href="#bp" x="716.1" y="497"/>
<use href="#bp" x="716.1" y="502.1"/>
<use href="#bp" x="716.1" y="507.2"/>
<use href="#bp" x="716.1" y="512.3"/>
<use href="#bp" x="716.1" y="517.5"/>
<use href="#bp" x="716.1" y="522.6"/>
<use href="#bp" x="716.1" y="527.7"/>
<path d="M716.1,489.1V535" stroke="#333" stroke-width="0.8" stroke-dasharray="3.27 1.84" stroke-dashoffset="1.38"/>
<use href="#bp" x="722.1" y="492.1"/>
<use href="#bp" x="722.1" y="497.2"/>
<use href="#bp" x="722.1" y="502.3"/>
<use href="#bp" x="722.1" y="507.4"/>
<use href="#bp" x="722.1" y="512.5"/>
<use href="#bp" x="722.1" y="517.7"/>
<use href="#bp" x="722.1" y="522.8"/>
<use href="#bp" x="722.1" y="527.9"/>
<use href="#bp" x="722.1" y="533"/>
<use href="#bp" x="722.1" y="538.1"/>
<use href="#bp" x="722.1" y="543.2"/>
<path d="M722.1,489.3V547.5" stroke="#1e1e1e" stroke-width="0.95" stroke-dasharray="3.27 1.84" stroke-dashoffset="1.38"/>
<use href="#bp" x="728" y="492.3"/>
<use href="#bp" x="728" y="497.4"/>
<use href="#bp" x="728" y="502.5"/>
<use href="#bp" x="728" y="507.6"/>
<use href="#bp" x="728" y="512.7"/>
<use href="#bp" x="728" y="517.8"/>
<use href="#bp" x="728" y="522.9"/>
<use href="#bp" x="728" y="528.1"/>
<path d="M728,489.4V534" stroke="#333" stroke-width="0.8" stroke-dasharray="3.27 1.84" stroke-dashoffset="1.38"/>
<use href="#bp" x="733.9" y="492.4"/>
<use href="#bp" x="733.9" y="497.5"/>
<use href="#bp" x="733.9" y="502.6"/>
<use href="#bp" x="733.9" y="507.7"/>
<use href="#bp" x="733.9" y="512.8"/>
<path d="M733.9,489.6V520.8" stroke="#1e1e1e" stroke-width="0.95" stroke-dasharray="3.27 1.84" stroke-dashoffset="1.38"/>
<use href="#bp" x="739.9" y="492.5"/>
<use href="#bp" x="739.9" y="497.6"/>
<use href="#bp" x="739.9" y="502.7"/>
<use href="#bp" x="739.9" y="507.8"/>
<use href="#bp" x="739.9" y="513"/>
<use href="#bp" x="739.9" y="518.1"/>
<use href="#bp" x="739.9" y="523.2"/>
<use href="#bp" x="739.9" y="528.3"/>
<path d="M739.9,489.7V535.6" stroke="#333" stroke-width="0.8" stroke-dasharray="3.27 1.84" stroke-dashoffset="1.38"/>
<use href="#bp" x="745.8" y="492.6"/>
<use href="#bp" x="745.8" y="497.7"/>
<use href="#bp" x="745.8" y="502.8"/>
<use href="#bp" x="745.8" y="507.9"/>
<use href="#bp" x="745.8" y="513"/>
<use href="#bp" x="745.8" y="518.2"/>
<use href="#bp" x="745.8" y="523.3"/>
<use href="#bp" x="745.8" y="528.4"/>
<use href="#bp" x="745.8" y="533.5"/>
<use href="#bp" x="745.8" y="538.6"/>
<use href="#bp" x="745.8" y="543.7"/>
<path d="M745.8,489.8V548" stroke="#1e1e1e" stroke-width="0.95" stroke-dasharray="3.27 1.84" stroke-dashoffset="1.38"/>
<use href="#bp" x="751.7" y="492.6"/>
<use href="#bp" x="751.7" y="497.7"/>
<use href="#bp" x="751.7" y="502.9"/>
<use href="#bp" x="751.7" y="508"/>
<use href="#bp" x="751.7" y="513.1"/>
<use href="#bp" x="751.7" y="518.2"/>
<use href="#bp" x="751.7" y="523.3"/>
<use href="#bp" x="751.7" y="528.4"/>
<path d="M751.7,489.8V534.4" stroke="#333" stroke-width="0.8" stroke-dasharray="3.27 1.84" stroke-dashoffset="1.38"/>
<use href="#bp" x="757.6" y="492.7"/>
<use href="#bp" x="757.6" y="497.8"/>
<use href="#bp" x="757.6" y="502.9"/>
<use href="#bp" x="757.6" y="508"/>
<use href="#bp" x="757.6" y="513.1"/>
<path d="M757.6,489.8V521.1" stroke="#1e1e1e" stroke-width="0.95" stroke-dasharray="3.27 1.84" stroke-dashoffset="1.38"/>
<use href="#bp" x="763.5" y="492.7"/>
<use href="#bp" x="763.5" y="497.8"/>
<use href="#bp" x="763.5" y="502.9"/>
<use href="#bp" x="763.5" y="508"/>
<use href="#bp" x="763.5" y="513.1"/>
<use href="#bp" x="763.5" y="518.2"/>
<use href="#bp" x="763.5" y="523.3"/>
<use href="#bp" x="763.5" y="528.5"/>
<path d="M763.5,489.8V535.8" stroke="#333" stroke-width="0.8" stroke-dasharray="3.27 1.84" stroke-dashoffset="1.38"/>
<use href="#bp" x="769.5" y="492.6"/>
<use href="#bp" x="769.5" y="497.7"/>
<use href="#bp" x="769.5" y="502.9"/>
<use href="#bp" x="769.5" y="508"/>
<use href="#bp" x="769.5" y="513.1"/>
<use href="#bp" x="769.5" y="518.2"/>
<use href="#bp" x="769.5" y="523.3"/>
<use href="#bp" x="769.5" y="528.4"/>
<use href="#bp" x="769.5" y="533.5"/>
<use href="#bp" x="769.5" y="538.7"/>
<use href="#bp" x="769.5" y="543.8"/>
<path d="M769.5,489.8V548.1" stroke="#1e1e1e" stroke-width="0.95" stroke-dasharray="3.27 1.84" stroke-dashoffset="1.38"/>
<use href="#bp" x="775.4" y="492.6"/>
<use href="#bp" x="775.4" y="497.7"/>
<use href="#bp" x="775.4" y="502.8"/>
<use href="#bp" x="775.4" y="507.9"/>
<use href="#bp" x="775.4" y="513"/>
<use href="#bp" x="775.4" y="518.1"/>
<use href="#bp" x="775.4" y="523.3"/>
<use href="#bp" x="775.4" y="528.4"/>
<path d="M775.4,489.8V534.4" stroke="#333" stroke-width="0.8" stroke-dasharray="3.27 1.84" stroke-dashoffset="1.38"/>
<use href="#bp" x="781.3" y="492.5"/>
<use href="#bp" x="781.3" y="497.6"/>
<use href="#bp" x="781.3" y="502.7"/>
<use href="#bp" x="781.3" y="507.8"/>
<use href="#bp" x="781.3" y="512.9"/>
<path d="M781.3,489.7V520.9" stroke="#1e1e1e" stroke-width="0.95" stroke-dasharray="3.27 1.84" stroke-dashoffset="1.38"/>
<use href="#bp" x="787.2" y="492.4"/>
<use href="#bp" x="787.2" y="497.5"/>
<use href="#bp" x="787.2" y="502.6"/>
<use href="#bp" x="787.2" y="507.7"/>
<use href="#bp" x="787.2" y="512.8"/>
<use href="#bp" x="787.2" y="517.9"/>
<use href="#bp" x="787.2" y="523.1"/>
<use href="#bp" x="787.2" y="528.2"/>
<path d="M787.2,489.6V535.5" stroke="#333" stroke-width="0.8" stroke-dasharray="3.27 1.84" stroke-dashoffset="1.38"/>
<use href="#bp" x="793.2" y="492.2"/>
<use href="#bp" x="793.2" y="497.4"/>
<use href="#bp" x="793.2" y="502.5"/>
<use href="#bp" x="793.2" y="507.6"/>
<use href="#bp" x="793.2" y="512.7"/>
<use href="#bp" x="793.2" y="517.8"/>
<use href="#bp" x="793.2" y="522.9"/>
<use href="#bp" x="793.2" y="528"/>
<use href="#bp" x="793.2" y="533.1"/>
<use href="#bp" x="793.2" y="538.3"/>
<use href="#bp" x="793.2" y="543.4"/>
<path d="M793.2,489.4V547.7" stroke="#1e1e1e" stroke-width="0.95" stroke-dasharray="3.27 1.84" stroke-dashoffset="1.38"/>
<use href="#bp" x="799.1" y="492.1"/>
<use href="#bp" x="799.1" y="497.2"/>
<use href="#bp" x="799.1" y="502.3"/>
<use href="#bp" x="799.1" y="507.4"/>
<use href="#bp" x="799.1" y="512.5"/>
<use href="#bp" x="799.1" y="517.6"/>
<use href="#bp" x="799.1" y="522.8"/>
<use href="#bp" x="799.1" y="527.9"/>
<path d="M799.1,489.3V533.8" stroke="#333" stroke-width="0.8" stroke-dasharray="3.27 1.84" stroke-dashoffset="1.38"/>
<use href="#bp" x="805" y="491.9"/>
<use href="#bp" x="805" y="497"/>
<use href="#bp" x="805" y="502.1"/>
<use href="#bp" x="805" y="507.2"/>
<use href="#bp" x="805" y="512.3"/>
<path d="M805,489.1V520.3" stroke="#1e1e1e" stroke-width="0.95" stroke-dasharray="3.27 1.84" stroke-dashoffset="1.38"/>
<use href="#bp" x="811" y="491.6"/>
<use href="#bp" x="811" y="496.8"/>
<use href="#bp" x="811" y="501.9"/>
<use href="#bp" x="811" y="507"/>
<use href="#bp" x="811" y="512.1"/>
<use href="#bp" x="811" y="517.2"/>
<use href="#bp" x="811" y="522.3"/>
<use href="#bp" x="811" y="527.4"/>
<path d="M811,488.8V534.8" stroke="#333" stroke-width="0.8" stroke-dasharray="3.27 1.84" stroke-dashoffset="1.38"/>
<use href="#bp" x="816.9" y="491.4"/>
<use href="#bp" x="816.9" y="496.5"/>
<use href="#bp" x="816.9" y="501.6"/>
<use href="#bp" x="816.9" y="506.7"/>
<use href="#bp" x="816.9" y="511.8"/>
<use href="#bp" x="816.9" y="517"/>
<use href="#bp" x="816.9" y="522.1"/>
<use href="#bp" x="816.9" y="527.2"/>
<use href="#bp" x="816.9" y="532.3"/>
<use href="#bp" x="816.9" y="537.4"/>
<use href="#bp" x="816.9" y="542.5"/>
<path d="M816.9,488.6V546.8" stroke="#1e1e1e" stroke-width="0.95" stroke-dasharray="3.27 1.84" stroke-dashoffset="1.38"/>
<use href="#bp" x="822.8" y="491.1"/>
<use href="#bp" x="822.8" y="496.2"/>
<use href="#bp" x="822.8" y="501.3"/>
<use href="#bp" x="822.8" y="506.4"/>
<use href="#bp" x="822.8" y="511.5"/>
<use href="#bp" x="822.8" y="516.7"/>
<use href="#bp" x="822.8" y="521.8"/>
<use href="#bp" x="822.8" y="526.9"/>
<path d="M822.8,488.3V532.9" stroke="#333" stroke-width="0.8" stroke-dasharray="3.27 1.84" stroke-dashoffset="1.38"/>
<use href="#bp" x="828.7" y="490.8"/>
<use href="#bp" x="828.7" y="495.9"/>
<use href="#bp" x="828.7" y="501"/>
<use href="#bp" x="828.7" y="506.1"/>
<use href="#bp" x="828.7" y="511.2"/>
<path d="M828.7,488V519.2" stroke="#1e1e1e" stroke-width="0.95" stroke-dasharray="3.27 1.84" stroke-dashoffset="1.38"/>
<use href="#bp" x="834.7" y="490.4"/>
<use href="#bp" x="834.7" y="495.5"/>
<use href="#bp" x="834.7" y="500.6"/>
<use href="#bp" x="834.7" y="505.8"/>
<use href="#bp" x="834.7" y="510.9"/>
<use href="#bp" x="834.7" y="516"/>
<use href="#bp" x="834.7" y="521.1"/>
<use href="#bp" x="834.7" y="526.2"/>
<path d="M834.7,487.6V533.6" stroke="#333" stroke-width="0.8" stroke-dasharray="3.27 1.84" stroke-dashoffset="1.38"/>
<use href="#bp" x="840.6" y="490"/>
<use href="#bp" x="840.6" y="495.1"/>
<use href="#bp" x="840.6" y="500.3"/>
<use href="#bp" x="840.6" y="505.4"/>
<use href="#bp" x="840.6" y="510.5"/>
<use href="#bp" x="840.6" y="515.6"/>
<use href="#bp" x="840.6" y="520.7"/>
<use href="#bp" x="840.6" y="525.8"/>
<use href="#bp" x="840.6" y="530.9"/>
<use href="#bp" x="840.6" y="536"/>
<use href="#bp" x="840.6" y="541.2"/>
<path d="M840.6,487.2V545.4" stroke="#1e1e1e" stroke-width="0.95" stroke-dasharray="3.27 1.84" stroke-dashoffset="1.38"/>
<use href="#bp" x="846.5" y="489.6"/>
<use href="#bp" x="846.5" y="494.7"/>
<use href="#bp" x="846.5" y="499.8"/>
<use href="#bp" x="846.5" y="504.9"/>
<use href="#bp" x="846.5" y="510.1"/>
<use href="#bp" x="846.5" y="515.2"/>
<use href="#bp" x="846.5" y="520.3"/>
<use href="#bp" x="846.5" y="525.4"/>
<path d="M846.5,486.8V531.4" stroke="#333" stroke-width="0.8" stroke-dasharray="3.27 1.84" stroke-dashoffset="1.38"/>
<use href="#bp" x="852.4" y="489.1"/>
<use href="#bp" x="852.4" y="494.2"/>
<use href="#bp" x="852.4" y="499.4"/>
<use href="#bp" x="852.4" y="504.5"/>
<use href="#bp" x="852.4" y="509.6"/>
<path d="M852.4,486.3V517.5" stroke="#1e1e1e" stroke-width="0.95" stroke-dasharray="3.27 1.84" stroke-dashoffset="1.38"/>
<use href="#bp" x="858.4" y="488.6"/>
<use href="#bp" x="858.4" y="493.7"/>
<use href="#bp" x="858.4" y="498.9"/>
<use href="#bp" x="858.4" y="504"/>
<use href="#bp" x="858.4" y="509.1"/>
<use href="#bp" x="858.4" y="514.2"/>
<use href="#bp" x="858.4" y="519.3"/>
<use href="#bp" x="858.4" y="524.4"/>
<path d="M858.4,485.8V531.8" stroke="#333" stroke-width="0.8" stroke-dasharray="3.27 1.84" stroke-dashoffset="1.38"/>
<use href="#bp" x="864.3" y="488.1"/>
<use href="#bp" x="864.3" y="493.2"/>
<use href="#bp" x="864.3" y="498.3"/>
<use href="#bp" x="864.3" y="503.4"/>
<use href="#bp" x="864.3" y="508.5"/>
<use href="#bp" x="864.3" y="513.7"/>
<use href="#bp" x="864.3" y="518.8"/>
<use href="#bp" x="864.3" y="523.9"/>
<use href="#bp" x="864.3" y="529"/>
<use href="#bp" x="864.3" y="534.1"/>
<use href="#bp" x="864.3" y="539.2"/>
<path d="M864.3,485.3V543.5" stroke="#1e1e1e" stroke-width="0.95" stroke-dasharray="3.27 1.84" stroke-dashoffset="1.38"/>
<use href="#bp" x="870.2" y="487.5"/>
<use href="#bp" x="870.2" y="492.6"/>
<use href="#bp" x="870.2" y="497.7"/>
<use href="#bp" x="870.2" y="502.8"/>
<use href="#bp" x="870.2" y="507.9"/>
<use href="#bp" x="870.2" y="513.1"/>
<use href="#bp" x="870.2" y="518.2"/>
<use href="#bp" x="870.2" y="523.3"/>
<path d="M870.2,484.7V529.3" stroke="#333" stroke-width="0.8" stroke-dasharray="3.27 1.84" stroke-dashoffset="1.38"/>
<use href="#bp" x="876.1" y="486.9"/>
<use href="#bp" x="876.1" y="492"/>
<use href="#bp" x="876.1" y="497.1"/>
<use href="#bp" x="876.1" y="502.2"/>
<use href="#bp" x="876.1" y="507.3"/>
<path d="M876.1,484V515.3" stroke="#1e1e1e" stroke-width="0.95" stroke-dasharray="3.27 1.84" stroke-dashoffset="1.38"/>
<use href="#bp" x="882" y="486.2"/>
<use href="#bp" x="882" y="491.3"/>
<use href="#bp" x="882" y="496.4"/>
<use href="#bp" x="882" y="501.5"/>
<use href="#bp" x="882" y="506.6"/>
<use href="#bp" x="882" y="511.7"/>
<use href="#bp" x="882" y="516.8"/>
<use href="#bp" x="882" y="522"/>
<path d="M882,483.3V529.3" stroke="#333" stroke-width="0.8" stroke-dasharray="3.27 1.84" stroke-dashoffset="1.38"/>
<use href="#bp" x="888" y="485.4"/>
<use href="#bp" x="888" y="490.5"/>
<use href="#bp" x="888" y="495.6"/>
<use href="#bp" x="888" y="500.8"/>
<use href="#bp" x="888" y="505.9"/>
<use href="#bp" x="888" y="511"/>
<use href="#bp" x="888" y="516.1"/>
<use href="#bp" x="888" y="521.2"/>
<use href="#bp" x="888" y="526.3"/>
<use href="#bp" x="888" y="531.4"/>
<use href="#bp" x="888" y="536.6"/>
<path d="M888,482.6V540.8" stroke="#1e1e1e" stroke-width="0.95" stroke-dasharray="3.27 1.84" stroke-dashoffset="1.38"/>
<use href="#bp" x="893.9" y="484.6"/>
<use href="#bp" x="893.9" y="489.7"/>
<use href="#bp" x="893.9" y="494.8"/>
<use href="#bp" x="893.9" y="500"/>
<use href="#bp" x="893.9" y="505.1"/>
<use href="#bp" x="893.9" y="510.2"/>
<use href="#bp" x="893.9" y="515.3"/>
<use href="#bp" x="893.9" y="520.4"/>
<path d="M893.9,481.8V526.4" stroke="#333" stroke-width="0.8" stroke-dasharray="3.27 1.84" stroke-dashoffset="1.38"/>
<use href="#bp" x="899.8" y="483.7"/>
<use href="#bp" x="899.8" y="488.8"/>
<use href="#bp" x="899.8" y="494"/>
<use href="#bp" x="899.8" y="499.1"/>
<use href="#bp" x="899.8" y="504.2"/>
<path d="M899.8,480.9V512.1" stroke="#1e1e1e" stroke-width="0.95" stroke-dasharray="3.27 1.84" stroke-dashoffset="1.38"/>
<use href="#bp" x="905.8" y="482.8"/>
<use href="#bp" x="905.8" y="487.9"/>
<use href="#bp" x="905.8" y="493"/>
<use href="#bp" x="905.8" y="498.1"/>
<use href="#bp" x="905.8" y="503.2"/>
<use href="#bp" x="905.8" y="508.3"/>
<use href="#bp" x="905.8" y="513.5"/>
<use href="#bp" x="905.8" y="518.6"/>
<path d="M905.8,480V525.9" stroke="#333" stroke-width="0.8" stroke-dasharray="3.27 1.84" stroke-dashoffset="1.38"/>
<use href="#bp" x="911.7" y="481.7"/>
<use href="#bp" x="911.7" y="486.8"/>
<use href="#bp" x="911.7" y="492"/>
<use href="#bp" x="911.7" y="497.1"/>
<use href="#bp" x="911.7" y="502.2"/>
<use href="#bp" x="911.7" y="507.3"/>
<use href="#bp" x="911.7" y="512.4"/>
<use href="#bp" x="911.7" y="517.5"/>
<use href="#bp" x="911.7" y="522.6"/>
<use href="#bp" x="911.7" y="527.8"/>
<use href="#bp" x="911.7" y="532.9"/>
<path d="M911.7,478.9V537.2" stroke="#1e1e1e" stroke-width="0.95" stroke-dasharray="3.27 1.84" stroke-dashoffset="1.38"/>
<use href="#bp" x="917.6" y="480.6"/>
<use href="#bp" x="917.6" y="485.7"/>
<use href="#bp" x="917.6" y="490.8"/>
<use href="#bp" x="917.6" y="495.9"/>
<use href="#bp" x="917.6" y="501"/>
<use href="#bp" x="917.6" y="506.2"/>
<use href="#bp" x="917.6" y="511.3"/>
<use href="#bp" x="917.6" y="516.4"/>
<path d="M917.6,477.8V522.4" stroke="#333" stroke-width="0.8" stroke-dasharray="3.27 1.84" stroke-dashoffset="1.38"/>
<use href="#bp" x="923.5" y="479.3"/>
<use href="#bp" x="923.5" y="484.4"/>
<use href="#bp" x="923.5" y="489.5"/>
<use href="#bp" x="923.5" y="494.7"/>
<use href="#bp" x="923.5" y="499.8"/>
<path d="M923.5,476.5V507.7" stroke="#1e1e1e" stroke-width="0.95" stroke-dasharray="3.27 1.84" stroke-dashoffset="1.38"/>
<use href="#bp" x="929.5" y="477.9"/>
<use href="#bp" x="929.5" y="483"/>
<use href="#bp" x="929.5" y="488.1"/>
<use href="#bp" x="929.5" y="493.2"/>
<use href="#bp" x="929.5" y="498.4"/>
<use href="#bp" x="929.5" y="503.5"/>
<use href="#bp" x="929.5" y="508.6"/>
<use href="#bp" x="929.5" y="513.7"/>
<path d="M929.5,475.1V521" stroke="#333" stroke-width="0.8" stroke-dasharray="3.27 1.84" stroke-dashoffset="1.38"/>
<use href="#bp" x="935.4" y="476.3"/>
<use href="#bp" x="935.4" y="481.4"/>
<use href="#bp" x="935.4" y="486.5"/>
<use href="#bp" x="935.4" y="491.6"/>
<use href="#bp" x="935.4" y="496.7"/>
<use href="#bp" x="935.4" y="501.8"/>
<use href="#bp" x="935.4" y="507"/>
<use href="#bp" x="935.4" y="512.1"/>
<use href="#bp" x="935.4" y="517.2"/>
<use href="#bp" x="935.4" y="522.3"/>
<use href="#bp" x="935.4" y="527.4"/>
<path d="M935.4,473.5V531.7" stroke="#1e1e1e" stroke-width="0.95" stroke-dasharray="3.27 1.84" stroke-dashoffset="1.38"/>
<use href="#bp" x="941.3" y="474.4"/>
<use href="#bp" x="941.3" y="479.5"/>
<use href="#bp" x="941.3" y="484.6"/>
<use href="#bp" x="941.3" y="489.7"/>
<use href="#bp" x="941.3" y="494.8"/>
<use href="#bp" x="941.3" y="499.9"/>
<use href="#bp" x="941.3" y="505.1"/>
<use href="#bp" x="941.3" y="510.2"/>
<path d="M941.3,471.6V516.2" stroke="#333" stroke-width="0.8" stroke-dasharray="3.27 1.84" stroke-dashoffset="1.38"/>
<use href="#bp" x="947.2" y="472.1"/>
<use href="#bp" x="947.2" y="477.2"/>
<use href="#bp" x="947.2" y="482.3"/>
<use href="#bp" x="947.2" y="487.4"/>
<use href="#bp" x="947.2" y="492.5"/>
<path d="M947.2,469.2V500.5" stroke="#1e1e1e" stroke-width="0.95" stroke-dasharray="3.27 1.84" stroke-dashoffset="1.38"/>
<use href="#bp" x="953.2" y="468.9"/>
<use href="#bp" x="953.2" y="474"/>
<use href="#bp" x="953.2" y="479.1"/>
<use href="#bp" x="953.2" y="484.2"/>
<use href="#bp" x="953.2" y="489.3"/>
<use href="#bp" x="953.2" y="494.5"/>
<use href="#bp" x="953.2" y="499.6"/>
<use href="#bp" x="953.2" y="504.7"/>
<path d="M953.2,466.1V512" stroke="#333" stroke-width="0.8" stroke-dasharray="3.27 1.84" stroke-dashoffset="1.38"/>
<use href="#dd" transform="translate(568,497.7) scale(1.02,0.91)"/>
<use href="#bl" transform="translate(574,518.4) scale(1.02,0.86)"/>
<use href="#dm" transform="translate(579.9,530) scale(0.82,0.91)"/>
<use href="#al" transform="translate(585.8,518.2) scale(0.91,0.91)"/>
<use href="#dd" transform="translate(591.7,506.5) scale(1.02,0.91)"/>
<use href="#bl" transform="translate(597.6,525.5) scale(1.02,0.86)"/>
<use href="#dm" transform="translate(603.6,536.1) scale(0.82,0.91)"/>
<use href="#al" transform="translate(609.5,523.6) scale(0.91,0.91)"/>
<use href="#dd" transform="translate(615.4,511.3) scale(1.02,0.91)"/>
<use href="#bl" transform="translate(621.4,529.9) scale(1.02,0.86)"/>
<use href="#dm" transform="translate(627.3,540.1) scale(0.82,0.91)"/>
<use href="#al" transform="translate(633.2,527.3) scale(0.91,0.91)"/>
<use href="#dd" transform="translate(639.1,514.6) scale(1.02,0.91)"/>
<use href="#bl" transform="translate(645.1,533) scale(1.02,0.86)"/>
<use href="#dm" transform="translate(651,543) scale(0.82,0.91)"/>
<use href="#al" transform="translate(656.9,529.9) scale(0.91,0.91)"/>
<use href="#dd" transform="translate(662.8,517.1) scale(1.02,0.91)"/>
<use href="#bl" transform="translate(668.8,535.2) scale(1.02,0.86)"/>
<use href="#dm" transform="translate(674.7,545.1) scale(0.82,0.91)"/>
<use href="#al" transform="translate(680.6,531.8) scale(0.91,0.91)"/>
<use href="#dd" transform="translate(686.5,518.9) scale(1.02,0.91)"/>
<use href="#bl" transform="translate(692.5,536.9) scale(1.02,0.86)"/>
<use href="#dm" transform="translate(698.4,546.5) scale(0.82,0.91)"/>
<use href="#al" transform="translate(704.3,533.2) scale(0.91,0.91)"/>
<use href="#dd" transform="translate(710.2,520.1) scale(1.02,0.91)"/>
<use href="#bl" transform="translate(716.1,537.9) scale(1.02,0.86)"/>
<use href="#dm" transform="translate(722.1,547.5) scale(0.82,0.91)"/>
<use href="#al" transform="translate(728,534) scale(0.91,0.91)"/>
<use href="#dd" transform="translate(733.9,520.8) scale(1.02,0.91)"/>
<use href="#bl" transform="translate(739.9,538.6) scale(1.02,0.86)"/>
<use href="#dm" transform="translate(745.8,548) scale(0.82,0.91)"/>
<use href="#al" transform="translate(751.7,534.4) scale(0.91,0.91)"/>
<use href="#dd" transform="translate(757.6,521.1) scale(1.02,0.91)"/>
<use href="#bl" transform="translate(763.5,538.7) scale(1.02,0.86)"/>
<use href="#dm" transform="translate(769.5,548.1) scale(0.82,0.91)"/>
<use href="#al" transform="translate(775.4,534.4) scale(0.91,0.91)"/>
<use href="#dd" transform="translate(781.3,520.9) scale(1.02,0.91)"/>
<use href="#bl" transform="translate(787.2,538.4) scale(1.02,0.86)"/>
<use href="#dm" transform="translate(793.2,547.7) scale(0.82,0.91)"/>
<use href="#al" transform="translate(799.1,533.8) scale(0.91,0.91)"/>
<use href="#dd" transform="translate(805,520.3) scale(1.02,0.91)"/>
<use href="#bl" transform="translate(811,537.7) scale(1.02,0.86)"/>
<use href="#dm" transform="translate(816.9,546.8) scale(0.82,0.91)"/>
<use href="#al" transform="translate(822.8,532.9) scale(0.91,0.91)"/>
<use href="#dd" transform="translate(828.7,519.2) scale(1.02,0.91)"/>
<use href="#bl" transform="translate(834.7,536.5) scale(1.02,0.86)"/>
<use href="#dm" transform="translate(840.6,545.4) scale(0.82,0.91)"/>
<use href="#al" transform="translate(846.5,531.4) scale(0.91,0.91)"/>
<use href="#dd" transform="translate(852.4,517.5) scale(1.02,0.91)"/>
<use href="#bl" transform="translate(858.4,534.7) scale(1.02,0.86)"/>
<use href="#dm" transform="translate(864.3,543.5) scale(0.82,0.91)"/>
<use href="#al" transform="translate(870.2,529.3) scale(0.91,0.91)"/>
<use href="#dd" transform="translate(876.1,515.3) scale(1.02,0.91)"/>
<use href="#bl" transform="translate(882,532.2) scale(1.02,0.86)"/>
<use href="#dm" transform="translate(888,540.8) scale(0.82,0.91)"/>
<use href="#al" transform="translate(893.9,526.4) scale(0.91,0.91)"/>
<use href="#dd" transform="translate(899.8,512.1) scale(1.02,0.91)"/>
<use href="#bl" transform="translate(905.8,528.8) scale(1.02,0.86)"/>
<use href="#dm" transform="translate(911.7,537.2) scale(0.82,0.91)"/>
<use href="#al" transform="translate(917.6,522.4) scale(0.91,0.91)"/>
<use href="#dd" transform="translate(923.5,507.7) scale(1.02,0.91)"/>
<use href="#bl" transform="translate(929.5,524) scale(1.02,0.86)"/>
<use href="#dm" transform="translate(935.4,531.7) scale(0.82,0.91)"/>
<use href="#al" transform="translate(941.3,516.2) scale(0.91,0.91)"/>
<use href="#dd" transform="translate(947.2,500.5) scale(1.02,0.91)"/>
<use href="#bl" transform="translate(953.2,514.9) scale(1.02,0.86)"/>
<path d="M562.2,447V518.6" stroke="#222" stroke-width="1.3" stroke-dasharray="3.4 1.8"/>
<use href="#dd" transform="translate(562.2,517.6) scale(1.02,0.91)"/>
<path d="M958.4,447V518.6" stroke="#222" stroke-width="1.3" stroke-dasharray="3.4 1.8"/>
<use href="#dd" transform="translate(958.4,517.6) scale(1.02,0.91)"/>
<path d="M562.3,443.5 V458.3 A198.0,30.75 0 0 0 958.3,458.3 V443.5 A198.0,30.75 0 0 0 562.3,443.5Z" fill="#fff" stroke="#1c1c1c" stroke-width="1.2"/>
<path d="M562.3,443.5 A198.0,30.75 0 0 0 958.3,443.5" fill="none" stroke="#1c1c1c" stroke-width="1.2"/>
<ellipse cx="760.3" cy="444.3" rx="187.2" ry="25.6" fill="#fff" stroke="#1c1c1c" stroke-width="1.2"/>
<clipPath id="c1"><ellipse cx="760.3" cy="444.3" rx="187.2" ry="25.6"/></clipPath>
<clipPath id="c2"><ellipse cx="760.3" cy="459.5" rx="187.2" ry="25.6"/></clipPath>
<g clip-path="url(#c1)"><g clip-path="url(#c2)"><path d="M578.2,428V472M584.2,428V472M590.2,428V472M596.2,428V472M602.2,428V472M608.2,428V472M614.2,428V472M620.2,428V472M626.2,428V472M632.2,428V472M638.2,428V472M644.2,428V472M650.2,428V472M656.2,428V472M662.2,428V472M668.2,428V472M674.2,428V472M680.2,428V472M686.2,428V472M692.2,428V472M698.2,428V472M704.2,428V472M710.2,428V472M716.2,428V472M722.2,428V472M728.2,428V472M734.2,428V472M740.2,428V472M746.2,428V472M752.2,428V472M758.2,428V472M764.2,428V472M770.2,428V472M776.2,428V472M782.2,428V472M788.2,428V472M794.2,428V472M800.2,428V472M806.2,428V472M812.2,428V472M818.2,428V472M824.2,428V472M830.2,428V472M836.2,428V472M842.2,428V472M848.2,428V472M854.2,428V472M860.2,428V472M866.2,428V472M872.2,428V472M878.2,428V472M884.2,428V472M890.2,428V472M896.2,428V472M902.2,428V472M908.2,428V472M914.2,428V472M920.2,428V472M926.2,428V472M932.2,428V472M938.2,428V472M944.2,428V472M950.2,428V472" stroke="#444" stroke-width="0.7"/><path d="M578.2,433.6h0M578.2,440h0M578.2,446.4h0M578.2,452.7h0M578.2,459.1h0M578.2,465.4h0M578.2,471.8h0M578.2,478.1h0M578.2,484.4h0M584.2,433.6h0M584.2,440h0M584.2,446.4h0M584.2,452.7h0M584.2,459.1h0M584.2,465.4h0M584.2,471.8h0M584.2,478.1h0M584.2,484.4h0M590.2,433.6h0M590.2,440h0M590.2,446.4h0M590.2,452.7h0M590.2,459.1h0M590.2,465.4h0M590.2,471.8h0M590.2,478.1h0M590.2,484.4h0M596.2,433.6h0M596.2,440h0M596.2,446.4h0M596.2,452.7h0M596.2,459.1h0M596.2,465.4h0M596.2,471.8h0M596.2,478.1h0M596.2,484.4h0M602.2,433.6h0M602.2,440h0M602.2,446.4h0M602.2,452.7h0M602.2,459.1h0M602.2,465.4h0M602.2,471.8h0M602.2,478.1h0M602.2,484.4h0M608.2,433.6h0M608.2,440h0M608.2,446.4h0M608.2,452.7h0M608.2,459.1h0M608.2,465.4h0M608.2,471.8h0M608.2,478.1h0M608.2,484.4h0M614.2,433.6h0M614.2,440h0M614.2,446.4h0M614.2,452.7h0M614.2,459.1h0M614.2,465.4h0M614.2,471.8h0M614.2,478.1h0M614.2,484.4h0M620.2,433.6h0M620.2,440h0M620.2,446.4h0M620.2,452.7h0M620.2,459.1h0M620.2,465.4h0M620.2,471.8h0M620.2,478.1h0M620.2,484.4h0M626.2,433.6h0M626.2,440h0M626.2,446.4h0M626.2,452.7h0M626.2,459.1h0M626.2,465.4h0M626.2,471.8h0M626.2,478.1h0M626.2,484.4h0M632.2,433.6h0M632.2,440h0M632.2,446.4h0M632.2,452.7h0M632.2,459.1h0M632.2,465.4h0M632.2,471.8h0M632.2,478.1h0M632.2,484.4h0M638.2,433.6h0M638.2,440h0M638.2,446.4h0M638.2,452.7h0M638.2,459.1h0M638.2,465.4h0M638.2,471.8h0M638.2,478.1h0M638.2,484.4h0M644.2,433.6h0M644.2,440h0M644.2,446.4h0M644.2,452.7h0M644.2,459.1h0M644.2,465.4h0M644.2,471.8h0M644.2,478.1h0M644.2,484.4h0M650.2,433.6h0M650.2,440h0M650.2,446.4h0M650.2,452.7h0M650.2,459.1h0M650.2,465.4h0M650.2,471.8h0M650.2,478.1h0M650.2,484.4h0M656.2,433.6h0M656.2,440h0M656.2,446.4h0M656.2,452.7h0M656.2,459.1h0M656.2,465.4h0M656.2,471.8h0M656.2,478.1h0M656.2,484.4h0M662.2,433.6h0M662.2,440h0M662.2,446.4h0M662.2,452.7h0M662.2,459.1h0M662.2,465.4h0M662.2,471.8h0M662.2,478.1h0M662.2,484.4h0M668.2,433.6h0M668.2,440h0M668.2,446.4h0M668.2,452.7h0M668.2,459.1h0M668.2,465.4h0M668.2,471.8h0M668.2,478.1h0M668.2,484.4h0M674.2,433.6h0M674.2,440h0M674.2,446.4h0M674.2,452.7h0M674.2,459.1h0M674.2,465.4h0M674.2,471.8h0M674.2,478.1h0M674.2,484.4h0M680.2,433.6h0M680.2,440h0M680.2,446.4h0M680.2,452.7h0M680.2,459.1h0M680.2,465.4h0M680.2,471.8h0M680.2,478.1h0M680.2,484.4h0M686.2,433.6h0M686.2,440h0M686.2,446.4h0M686.2,452.7h0M686.2,459.1h0M686.2,465.4h0M686.2,471.8h0M686.2,478.1h0M686.2,484.4h0M692.2,433.6h0M692.2,440h0M692.2,446.4h0M692.2,452.7h0M692.2,459.1h0M692.2,465.4h0M692.2,471.8h0M692.2,478.1h0M692.2,484.4h0M698.2,433.6h0M698.2,440h0M698.2,446.4h0M698.2,452.7h0M698.2,459.1h0M698.2,465.4h0M698.2,471.8h0M698.2,478.1h0M698.2,484.4h0M704.2,433.6h0M704.2,440h0M704.2,446.4h0M704.2,452.7h0M704.2,459.1h0M704.2,465.4h0M704.2,471.8h0M704.2,478.1h0M704.2,484.4h0M710.2,433.6h0M710.2,440h0M710.2,446.4h0M710.2,452.7h0M710.2,459.1h0M710.2,465.4h0M710.2,471.8h0M710.2,478.1h0M710.2,484.4h0M716.2,433.6h0M716.2,440h0M716.2,446.4h0M716.2,452.7h0M716.2,459.1h0M716.2,465.4h0M716.2,471.8h0M716.2,478.1h0M716.2,484.4h0M722.2,433.6h0M722.2,440h0M722.2,446.4h0M722.2,452.7h0M722.2,459.1h0M722.2,465.4h0M722.2,471.8h0M722.2,478.1h0M722.2,484.4h0M728.2,433.6h0M728.2,440h0M728.2,446.4h0M728.2,452.7h0M728.2,459.1h0M728.2,465.4h0M728.2,471.8h0M728.2,478.1h0M728.2,484.4h0M734.2,433.6h0M734.2,440h0M734.2,446.4h0M734.2,452.7h0M734.2,459.1h0M734.2,465.4h0M734.2,471.8h0M734.2,478.1h0M734.2,484.4h0M740.2,433.6h0M740.2,440h0M740.2,446.4h0M740.2,452.7h0M740.2,459.1h0M740.2,465.4h0M740.2,471.8h0M740.2,478.1h0M740.2,484.4h0M746.2,433.6h0M746.2,440h0M746.2,446.4h0M746.2,452.7h0M746.2,459.1h0M746.2,465.4h0M746.2,471.8h0M746.2,478.1h0M746.2,484.4h0M752.2,433.6h0M752.2,440h0M752.2,446.4h0M752.2,452.7h0M752.2,459.1h0M752.2,465.4h0M752.2,471.8h0M752.2,478.1h0M752.2,484.4h0M758.2,433.6h0M758.2,440h0M758.2,446.4h0M758.2,452.7h0M758.2,459.1h0M758.2,465.4h0M758.2,471.8h0M758.2,478.1h0M758.2,484.4h0M764.2,433.6h0M764.2,440h0M764.2,446.4h0M764.2,452.7h0M764.2,459.1h0M764.2,465.4h0M764.2,471.8h0M764.2,478.1h0M764.2,484.4h0M770.2,433.6h0M770.2,440h0M770.2,446.4h0M770.2,452.7h0M770.2,459.1h0M770.2,465.4h0M770.2,471.8h0M770.2,478.1h0M770.2,484.4h0M776.2,433.6h0M776.2,440h0M776.2,446.4h0M776.2,452.7h0M776.2,459.1h0M776.2,465.4h0M776.2,471.8h0M776.2,478.1h0M776.2,484.4h0M782.2,433.6h0M782.2,440h0M782.2,446.4h0M782.2,452.7h0M782.2,459.1h0M782.2,465.4h0M782.2,471.8h0M782.2,478.1h0M782.2,484.4h0M788.2,433.6h0M788.2,440h0M788.2,446.4h0M788.2,452.7h0M788.2,459.1h0M788.2,465.4h0M788.2,471.8h0M788.2,478.1h0M788.2,484.4h0M794.2,433.6h0M794.2,440h0M794.2,446.4h0M794.2,452.7h0M794.2,459.1h0M794.2,465.4h0M794.2,471.8h0M794.2,478.1h0M794.2,484.4h0M800.2,433.6h0M800.2,440h0M800.2,446.4h0M800.2,452.7h0M800.2,459.1h0M800.2,465.4h0M800.2,471.8h0M800.2,478.1h0M800.2,484.4h0M806.2,433.6h0M806.2,440h0M806.2,446.4h0M806.2,452.7h0M806.2,459.1h0M806.2,465.4h0M806.2,471.8h0M806.2,478.1h0M806.2,484.4h0M812.2,433.6h0M812.2,440h0M812.2,446.4h0M812.2,452.7h0M812.2,459.1h0M812.2,465.4h0M812.2,471.8h0M812.2,478.1h0M812.2,484.4h0M818.2,433.6h0M818.2,440h0M818.2,446.4h0M818.2,452.7h0M818.2,459.1h0M818.2,465.4h0M818.2,471.8h0M818.2,478.1h0M818.2,484.4h0M824.2,433.6h0M824.2,440h0M824.2,446.4h0M824.2,452.7h0M824.2,459.1h0M824.2,465.4h0M824.2,471.8h0M824.2,478.1h0M824.2,484.4h0M830.2,433.6h0M830.2,440h0M830.2,446.4h0M830.2,452.7h0M830.2,459.1h0M830.2,465.4h0M830.2,471.8h0M830.2,478.1h0M830.2,484.4h0M836.2,433.6h0M836.2,440h0M836.2,446.4h0M836.2,452.7h0M836.2,459.1h0M836.2,465.4h0M836.2,471.8h0M836.2,478.1h0M836.2,484.4h0M842.2,433.6h0M842.2,440h0M842.2,446.4h0M842.2,452.7h0M842.2,459.1h0M842.2,465.4h0M842.2,471.8h0M842.2,478.1h0M842.2,484.4h0M848.2,433.6h0M848.2,440h0M848.2,446.4h0M848.2,452.7h0M848.2,459.1h0M848.2,465.4h0M848.2,471.8h0M848.2,478.1h0M848.2,484.4h0M854.2,433.6h0M854.2,440h0M854.2,446.4h0M854.2,452.7h0M854.2,459.1h0M854.2,465.4h0M854.2,471.8h0M854.2,478.1h0M854.2,484.4h0M860.2,433.6h0M860.2,440h0M860.2,446.4h0M860.2,452.7h0M860.2,459.1h0M860.2,465.4h0M860.2,471.8h0M860.2,478.1h0M860.2,484.4h0M866.2,433.6h0M866.2,440h0M866.2,446.4h0M866.2,452.7h0M866.2,459.1h0M866.2,465.4h0M866.2,471.8h0M866.2,478.1h0M866.2,484.4h0M872.2,433.6h0M872.2,440h0M872.2,446.4h0M872.2,452.7h0M872.2,459.1h0M872.2,465.4h0M872.2,471.8h0M872.2,478.1h0M872.2,484.4h0M878.2,433.6h0M878.2,440h0M878.2,446.4h0M878.2,452.7h0M878.2,459.1h0M878.2,465.4h0M878.2,471.8h0M878.2,478.1h0M878.2,484.4h0M884.2,433.6h0M884.2,440h0M884.2,446.4h0M884.2,452.7h0M884.2,459.1h0M884.2,465.4h0M884.2,471.8h0M884.2,478.1h0M884.2,484.4h0M890.2,433.6h0M890.2,440h0M890.2,446.4h0M890.2,452.7h0M890.2,459.1h0M890.2,465.4h0M890.2,471.8h0M890.2,478.1h0M890.2,484.4h0M896.2,433.6h0M896.2,440h0M896.2,446.4h0M896.2,452.7h0M896.2,459.1h0M896.2,465.4h0M896.2,471.8h0M896.2,478.1h0M896.2,484.4h0M902.2,433.6h0M902.2,440h0M902.2,446.4h0M902.2,452.7h0M902.2,459.1h0M902.2,465.4h0M902.2,471.8h0M902.2,478.1h0M902.2,484.4h0M908.2,433.6h0M908.2,440h0M908.2,446.4h0M908.2,452.7h0M908.2,459.1h0M908.2,465.4h0M908.2,471.8h0M908.2,478.1h0M908.2,484.4h0M914.2,433.6h0M914.2,440h0M914.2,446.4h0M914.2,452.7h0M914.2,459.1h0M914.2,465.4h0M914.2,471.8h0M914.2,478.1h0M914.2,484.4h0M920.2,433.6h0M920.2,440h0M920.2,446.4h0M920.2,452.7h0M920.2,459.1h0M920.2,465.4h0M920.2,471.8h0M920.2,478.1h0M920.2,484.4h0M926.2,433.6h0M926.2,440h0M926.2,446.4h0M926.2,452.7h0M926.2,459.1h0M926.2,465.4h0M926.2,471.8h0M926.2,478.1h0M926.2,484.4h0M932.2,433.6h0M932.2,440h0M932.2,446.4h0M932.2,452.7h0M932.2,459.1h0M932.2,465.4h0M932.2,471.8h0M932.2,478.1h0M932.2,484.4h0M938.2,433.6h0M938.2,440h0M938.2,446.4h0M938.2,452.7h0M938.2,459.1h0M938.2,465.4h0M938.2,471.8h0M938.2,478.1h0M938.2,484.4h0M944.2,433.6h0M944.2,440h0M944.2,446.4h0M944.2,452.7h0M944.2,459.1h0M944.2,465.4h0M944.2,471.8h0M944.2,478.1h0M944.2,484.4h0M950.2,433.6h0M950.2,440h0M950.2,446.4h0M950.2,452.7h0M950.2,459.1h0M950.2,465.4h0M950.2,471.8h0M950.2,478.1h0M950.2,484.4h0" stroke="#2c2c2c" stroke-width="4.7" stroke-linecap="round"/></g><ellipse cx="760.3" cy="459.5" rx="187.2" ry="25.6" fill="none" stroke="#1c1c1c" stroke-width="1"/></g>
<ellipse cx="760.3" cy="444.3" rx="187.2" ry="25.6" fill="none" stroke="#1c1c1c" stroke-width="1.2"/>
<path d="M735.5,285L647.2,415M741.5,285.6L648.4,461M780.5,285.6L873.6,461M786.5,285L874,415" stroke="#1e1e1e" stroke-width="1.3"/>
<path d="M645.2,421.4V417 C645.2,415 646.4000000000001,413.6 647.2,413.6 C648.0,413.6 649.2,415 649.2,417V421.4Z" fill="#fff" stroke="#333" stroke-width="0.8"/>
<path d="M872,421.4V417 C872,415 873.2,413.6 874,413.6 C874.8,413.6 876,415 876,417V421.4Z" fill="#fff" stroke="#333" stroke-width="0.8"/>
<path d="M645.8,467.79999999999995V463.4 C645.8,461.4 647.0,460.0 647.8,460.0 C648.5999999999999,460.0 649.8,461.4 649.8,463.4V467.79999999999995Z" fill="#fff" stroke="#333" stroke-width="0.8"/>
<path d="M872,467.79999999999995V463.4 C872,461.4 873.2,460.0 874,460.0 C874.8,460.0 876,461.4 876,463.4V467.79999999999995Z" fill="#fff" stroke="#333" stroke-width="0.8"/>
<path d="M855.5,340.6H831" stroke="#333" stroke-width="0.9"/><path d="M829.6,340.6l5,-1.3v2.6z" fill="#222"/>
<path d="M562.2,416V447M573.3,416V440" stroke="#444" stroke-width="0.8"/>
<path d="M549.4,422.9H562.2M573.3,422.9H586" stroke="#333" stroke-width="0.9"/>
<path d="M562.2,422.9l-5,-1.3v2.6zM573.3,422.9l5,-1.3v2.6z" fill="#222"/>
<text x="563.8" y="426" font-size="8.4" class="d">35</text>
<path d="M555,430.4V442.6M555,471V458.8" stroke="#333" stroke-width="0.9"/>
<path d="M555,442.6l-1.3,-5h2.6zM555,458.8l-1.3,5h2.6z" fill="#222"/>
<path d="M534.7,442.6H555.6M548.4,458.8H555.6M534.7,528.9H555.6" stroke="#333" stroke-width="1"/>
<text x="549.8" y="453.7" font-size="9.6" class="d">45</text>
<path d="M541.9,442.6V528.9" stroke="#333" stroke-width="1" stroke-dasharray="4 0.8"/>
<path d="M541.9,442.6l-1.3,5.5h2.6zM541.9,528.9l-1.3,-5.5h2.6z" fill="#222"/>
<rect x="533" y="481" width="17.5" height="10.5" fill="#fff"/><text x="534" y="489.9" font-size="9.3" class="d">260</text>
<path d="M563.5,579H958.5" stroke="#333" stroke-width="1.1" stroke-dasharray="4 0.8"/>
<path d="M563.5,571.5V585.5M958.5,571.5V585.5" stroke="#222" stroke-width="1"/>
<path d="M563.5,579l6,-1.3v2.6zM958.5,579l-6,-1.3v2.6z" fill="#222"/>
<rect x="749.5" y="573.5" width="23" height="10.5" fill="#fff"/><text x="761" y="582.4" class="d" text-anchor="middle" font-size="9.5">1200</text>
<path d="M714.3,612.5V642.7" stroke="#666" stroke-width="0.7"/>
<circle cx="714.3" cy="617.5" r="2.4" fill="#fff" stroke="#6a6a6a" stroke-width="0.8"/><circle cx="714.3" cy="617.5" r="0.9" fill="#777"/>
<circle cx="714.3" cy="624.7" r="2.4" fill="#fff" stroke="#6a6a6a" stroke-width="0.8"/><circle cx="714.3" cy="624.7" r="0.9" fill="#777"/>
<circle cx="714.3" cy="631.9" r="2.4" fill="#fff" stroke="#6a6a6a" stroke-width="0.8"/><circle cx="714.3" cy="631.9" r="0.9" fill="#777"/>
<circle cx="714.3" cy="639.1" r="2.4" fill="#fff" stroke="#6a6a6a" stroke-width="0.8"/><circle cx="714.3" cy="639.1" r="0.9" fill="#777"/>
<use href="#dd" transform="translate(714.3,642.7) scale(0.86)"/>
<path d="M753,612.5V656" stroke="#666" stroke-width="0.7"/>
<circle cx="753" cy="617.5" r="2.4" fill="#fff" stroke="#6a6a6a" stroke-width="0.8"/><circle cx="753" cy="617.5" r="0.9" fill="#777"/>
<circle cx="753" cy="624.7" r="2.4" fill="#fff" stroke="#6a6a6a" stroke-width="0.8"/><circle cx="753" cy="624.7" r="0.9" fill="#777"/>
<circle cx="753" cy="631.9" r="2.4" fill="#fff" stroke="#6a6a6a" stroke-width="0.8"/><circle cx="753" cy="631.9" r="0.9" fill="#777"/>
<circle cx="753" cy="639.1" r="2.4" fill="#fff" stroke="#6a6a6a" stroke-width="0.8"/><circle cx="753" cy="639.1" r="0.9" fill="#777"/>
<circle cx="753" cy="646.3" r="2.4" fill="#fff" stroke="#6a6a6a" stroke-width="0.8"/><circle cx="753" cy="646.3" r="0.9" fill="#777"/>
<circle cx="753" cy="653.5" r="2.4" fill="#fff" stroke="#6a6a6a" stroke-width="0.8"/><circle cx="753" cy="653.5" r="0.9" fill="#777"/>
<use href="#al" transform="translate(753,656) scale(0.95)"/>
<path d="M792.6,611.7V670.6" stroke="#666" stroke-width="0.7"/>
<circle cx="792.6" cy="616.7" r="2.4" fill="#fff" stroke="#6a6a6a" stroke-width="0.8"/><circle cx="792.6" cy="616.7" r="0.9" fill="#777"/>
<circle cx="792.6" cy="623.9" r="2.4" fill="#fff" stroke="#6a6a6a" stroke-width="0.8"/><circle cx="792.6" cy="623.9" r="0.9" fill="#777"/>
<circle cx="792.6" cy="631.1" r="2.4" fill="#fff" stroke="#6a6a6a" stroke-width="0.8"/><circle cx="792.6" cy="631.1" r="0.9" fill="#777"/>
<circle cx="792.6" cy="638.3" r="2.4" fill="#fff" stroke="#6a6a6a" stroke-width="0.8"/><circle cx="792.6" cy="638.3" r="0.9" fill="#777"/>
<circle cx="792.6" cy="645.5" r="2.4" fill="#fff" stroke="#6a6a6a" stroke-width="0.8"/><circle cx="792.6" cy="645.5" r="0.9" fill="#777"/>
<circle cx="792.6" cy="652.7" r="2.4" fill="#fff" stroke="#6a6a6a" stroke-width="0.8"/><circle cx="792.6" cy="652.7" r="0.9" fill="#777"/>
<circle cx="792.6" cy="659.9" r="2.4" fill="#fff" stroke="#6a6a6a" stroke-width="0.8"/><circle cx="792.6" cy="659.9" r="0.9" fill="#777"/>
<circle cx="792.6" cy="667.1" r="2.4" fill="#fff" stroke="#6a6a6a" stroke-width="0.8"/><circle cx="792.6" cy="667.1" r="0.9" fill="#777"/>
<use href="#dm" transform="translate(792.6,670.6) scale(0.86)"/>
<path d="M834.9,611.7V657.4" stroke="#666" stroke-width="0.7"/>
<circle cx="834.9" cy="616.7" r="2.4" fill="#fff" stroke="#6a6a6a" stroke-width="0.8"/><circle cx="834.9" cy="616.7" r="0.9" fill="#777"/>
<circle cx="834.9" cy="623.9" r="2.4" fill="#fff" stroke="#6a6a6a" stroke-width="0.8"/><circle cx="834.9" cy="623.9" r="0.9" fill="#777"/>
<circle cx="834.9" cy="631.1" r="2.4" fill="#fff" stroke="#6a6a6a" stroke-width="0.8"/><circle cx="834.9" cy="631.1" r="0.9" fill="#777"/>
<circle cx="834.9" cy="638.3" r="2.4" fill="#fff" stroke="#6a6a6a" stroke-width="0.8"/><circle cx="834.9" cy="638.3" r="0.9" fill="#777"/>
<circle cx="834.9" cy="645.5" r="2.4" fill="#fff" stroke="#6a6a6a" stroke-width="0.8"/><circle cx="834.9" cy="645.5" r="0.9" fill="#777"/>
<circle cx="834.9" cy="652.7" r="2.4" fill="#fff" stroke="#6a6a6a" stroke-width="0.8"/><circle cx="834.9" cy="652.7" r="0.9" fill="#777"/>
<use href="#bl" transform="translate(834.9,661.2) scale(1.1)"/>
<path d="M725.1,612.5V656.2" stroke="#555" stroke-width="0.8"/>
<path d="M720.6,612.5H730M720.6,656.2H730" stroke="#333" stroke-width="0.9"/>
<path d="M725.1,612.5l-1.1,4h2.2zM725.1,656.2l-1.1,-4h2.2z" fill="#333"/>
<text x="725" y="636.8" font-size="6.6" text-anchor="middle" fill="#333" stroke="#fff" stroke-width="1.6" paint-order="stroke">125</text>
<path d="M763.8,612.5V670.2" stroke="#555" stroke-width="0.8"/>
<path d="M758.4,612.5H769.2M758.4,670.2H769.2" stroke="#333" stroke-width="0.9"/>
<path d="M763.8,612.5l-1.1,4h2.2zM763.8,670.2l-1.1,-4h2.2z" fill="#333"/>
<text x="764" y="644" font-size="6.6" text-anchor="middle" fill="#333" stroke="#fff" stroke-width="1.6" paint-order="stroke">170</text>
<path d="M808.3,611.7V683.6" stroke="#555" stroke-width="0.8"/>
<path d="M797,611.7H814.2M797,683.6H814.2" stroke="#333" stroke-width="0.9"/>
<path d="M808.3,611.7l-1.1,4h2.2zM808.3,683.6l-1.1,-4h2.2z" fill="#333"/>
<text x="808.4" y="649.9" font-size="6.6" text-anchor="middle" fill="#333" stroke="#fff" stroke-width="1.6" paint-order="stroke">210</text>
<path d="M848.7,611.7V664.8" stroke="#555" stroke-width="0.8"/>
<path d="M838.5,611.7H853.8M838.5,664.8H853.8" stroke="#333" stroke-width="0.9"/>
<path d="M848.7,611.7l-1.1,4h2.2zM848.7,664.8l-1.1,-4h2.2z" fill="#333"/>
<text x="848.6" y="640" font-size="6.6" text-anchor="middle" fill="#333" stroke="#fff" stroke-width="1.6" paint-order="stroke">155</text>
</svg></body></html>
